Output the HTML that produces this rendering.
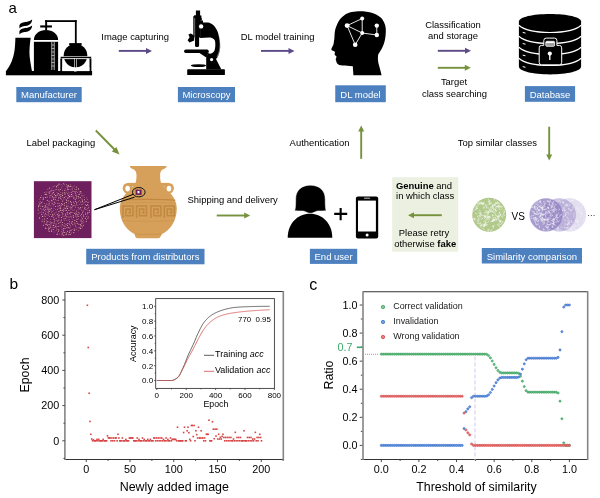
<!DOCTYPE html>
<html><head><meta charset="utf-8"><style>
html,body{margin:0;padding:0;background:#fff;}
body{width:600px;height:498px;overflow:hidden;}
svg{display:block;font-family:"Liberation Sans", Arial, sans-serif;}
</style></head><body>
<svg width="600" height="498" viewBox="0 0 600 498">
<text x="8.6" y="13.1" font-size="15" text-anchor="start" fill="#000" >a</text>
<g id="factory">
<rect x="5.9" y="71" width="86.2" height="4.3" fill="#000"/>
<path d="M15.4,37.8 L30.7,37.8 C29.8,44 29.2,50 29.6,56 C30.2,62 31.2,67 32,71.2 L5.9,71.2 C10.5,66 13.5,58 14.6,50 C15.2,45 15.3,41 15.4,37.8 Z" fill="#000"/>
<path d="M19.4,25.2 C21.5,22 24.5,22.4 27.2,21.8 C29.4,21.3 31.2,20.4 32.2,19.6 C32,22.6 30.6,24.6 27.8,25.6 C25,26.4 22,25.8 19.4,28.6 Z" fill="#000"/>
<path d="M19.4,31.2 C21.5,28 24.5,28.4 27.2,27.8 C29.4,27.3 31.2,26.4 32.2,25.6 C32,28.6 30.6,30.6 27.8,31.6 C25,32.4 22,31.8 19.4,34.6 Z" fill="#000"/>
<path d="M33.9,39.9 C33.9,34 39.5,30 46,30 C52.5,30 58.1,34 58.1,39.9 Z" fill="#000"/>
<rect x="33.9" y="41.8" width="24.2" height="29.4" fill="#000"/>
<rect x="40.2" y="25.4" width="11.7" height="2.1" fill="#000"/>
<rect x="45.2" y="20.2" width="1.9" height="10" fill="#000"/>
<rect x="45.2" y="20.2" width="31.4" height="1.8" fill="#000"/>
<rect x="74.9" y="20.2" width="1.8" height="23.5" fill="#000"/>
<line x1="51.8" y1="42" x2="51.8" y2="70" stroke="#fff" stroke-width="0.7"/>
<line x1="54.2" y1="42" x2="54.2" y2="70" stroke="#fff" stroke-width="0.7"/>
<path d="M51.8,45 H54.2 M51.8,48.5 H54.2 M51.8,52 H54.2 M51.8,55.5 H54.2 M51.8,59 H54.2 M51.8,62.5 H54.2 M51.8,66 H54.2" stroke="#fff" stroke-width="0.6"/>
<rect x="69.2" y="43.1" width="12.4" height="1.9" fill="#000"/>
<circle cx="75.5" cy="55.6" r="11.8" fill="#000"/>
<rect x="60.3" y="56.4" width="31.1" height="2.3" fill="#000" stroke="#fff" stroke-width="0.6"/>
<rect x="60.3" y="58.5" width="2.1" height="12.7" fill="#000"/>
<rect x="74.5" y="58.5" width="2.1" height="12.7" fill="#000" stroke="#fff" stroke-width="0.6"/>
<rect x="89.3" y="58.5" width="2.1" height="12.7" fill="#000"/>
<rect x="62.4" y="58.7" width="1.2" height="12.3" fill="#fff"/>
<rect x="88.1" y="58.7" width="1.2" height="12.3" fill="#fff"/>
<rect x="62.4" y="67.3" width="26.9" height="3.8" fill="#fff"/>
<path d="M63.6,58.7 H74.3 M76.8,58.7 H88" stroke="#fff" stroke-width="0.6"/>
</g>
<rect x="16.3" y="87" width="65.4" height="15.200000000000003" fill="#4D80BF"/>
<text x="49.0" y="98.39999999999999" fill="#fff" font-size="9.5" text-anchor="middle">Manufacturer</text>
<text x="101.3" y="40" font-size="9.45" text-anchor="start" fill="#000" >Image capturing</text>
<line x1="118.8" y1="50.9" x2="147" y2="50.9" stroke="#5D4B87" stroke-width="1.9"/>
<path d="M152,50.9 L146,47.9 L146,53.9 Z" fill="#5D4B87"/>
<g id="microscope">
<rect x="187.2" y="69.2" width="37.7" height="5.9" rx="0.7" fill="#000"/>
<path d="M206.2,69.4 L206.2,56.7 L208.7,52.9 L209.5,53.7 C212,53.5 213.7,52.5 214.5,50.5 C215.4,48 215.4,45 215.3,43 C215.2,41 214.5,39.5 213.6,39.1 C212,37.8 210.5,37.5 209.1,37.5 L200.1,38 L200.1,22.6 L208.5,22.6 C212.5,23.5 215.5,27 217.5,31.5 C219.5,36 220.4,42 220.2,47 C220,51 219,54.5 217.5,57.2 L216,59 L221.4,69.4 Z" fill="#000"/>
<path d="M218.6,34 C219.8,38 220.3,43 219.8,48 C219.4,51.5 218.3,54.5 217,57" stroke="#fff" stroke-width="0.45" fill="none" opacity="0.9"/>
<rect x="194.3" y="15.5" width="5.9" height="22" fill="#000"/>
<rect x="195" y="36" width="4.1" height="11.1" rx="1.6" fill="#000"/>
<rect x="195.9" y="10.5" width="4.2" height="5.5" fill="#000"/>
<rect x="194.1" y="15.5" width="7.3" height="2.6" fill="#000"/>
<rect x="195" y="18" width="6.8" height="2.6" fill="#000"/>
<rect x="195" y="20.5" width="8" height="2.6" fill="#000"/>
<rect x="193.3" y="16.2" width="0.9" height="20.8" fill="#000"/>
<line x1="194.75" y1="18" x2="194.75" y2="37" stroke="#999" stroke-width="0.5"/>
<circle cx="201.1" cy="26.4" r="2.2" fill="#fff"/>
<path d="M194.2,35.4 L190.8,33.6 L188.4,34.6 L189.6,37.3 L187.6,40.3 L189.5,42.6 L194.2,40.6 Z" fill="#000"/>
<rect x="184.1" y="49.6" width="24.6" height="3.3" rx="1.6" fill="#000"/>
<path d="M198.7,52.6 L208.8,52.6 L206.3,57.5 Z" fill="#000"/>
<circle cx="211.6" cy="59.6" r="1.6" fill="#fff"/>
<ellipse cx="198.5" cy="65.6" rx="7.7" ry="1.45" fill="#000"/>
</g>
<rect x="177.9" y="87" width="57.099999999999994" height="15.200000000000003" fill="#4D80BF"/>
<text x="206.45" y="98.39999999999999" fill="#fff" font-size="9.5" text-anchor="middle">Microscopy</text>
<text x="240.8" y="40" font-size="9.45" text-anchor="start" fill="#000" >DL model training</text>
<line x1="261" y1="50.9" x2="289.5" y2="50.9" stroke="#5D4B87" stroke-width="1.9"/>
<path d="M294.5,50.9 L288.5,47.9 L288.5,53.9 Z" fill="#5D4B87"/>
<g id="head">
<path d="M353.4,75.2 L352.8,66.3 C349,65.8 345,66 342.9,65.6 C340,65.2 338,64.6 337.2,63.4 C336,61.8 336.6,60.8 335.8,60 C335.3,59 336.8,57.6 336.5,56.6 C336,55.6 334.6,55.4 334.6,54.2 C334.6,53 335.4,52.4 334.6,51.5 C333.4,50.6 331,50.3 331.3,49.2 C331.6,47.6 333.4,45.5 333.7,43.2 C334,41 334.2,40 334.4,38.2 C334.6,33 334.8,30 335.8,27.7 C337.5,22.5 339.5,19.6 341.4,17.8 C345,13.6 350,11.7 356,11.4 C362,11.1 368,11.5 372.5,13 C378,15 381,17.5 382.3,19.3 C385,23 386.2,27.5 385.8,32 C385.6,37 385,41 383.6,44.5 C382,49 380,51.5 378.2,54.5 C377.6,58 378,61.5 378.7,64.2 C379.7,68 380.8,71.5 381.6,75.2 Z" fill="#000"/>
<g stroke="#fff" stroke-width="0.9" fill="none">
<path d="M347.1,25.6 L362.2,18.5 L362.2,33 Z M347.1,25.6 L355.2,44.8 L362.2,33 L376.8,35 L376.8,25.6"/>
</g>
<g fill="#fff">
<circle cx="347.1" cy="25.6" r="2.4"/><circle cx="362.2" cy="18.5" r="2"/><circle cx="362.2" cy="33" r="2"/>
<circle cx="355.2" cy="44.8" r="2.3"/><circle cx="376.8" cy="25.6" r="2.2"/><circle cx="376.8" cy="35" r="2.2"/>
</g>
</g>
<rect x="335.25" y="85.3" width="50.55000000000001" height="16.900000000000006" fill="#4D80BF"/>
<text x="360.525" y="97.55" fill="#fff" font-size="9.5" text-anchor="middle">DL model</text>
<text x="453" y="28" font-size="9.45" text-anchor="middle" fill="#000" >Classification</text>
<text x="453" y="39.3" font-size="9.45" text-anchor="middle" fill="#000" >and storage</text>
<line x1="437.8" y1="50.8" x2="466" y2="50.8" stroke="#5D4B87" stroke-width="1.9"/>
<path d="M471,50.8 L465,47.8 L465,53.8 Z" fill="#5D4B87"/>
<line x1="437.8" y1="67.8" x2="465.8" y2="67.8" stroke="#76923C" stroke-width="1.9"/>
<path d="M470.8,67.8 L464.8,64.8 L464.8,70.8 Z" fill="#76923C"/>
<text x="454" y="85.4" font-size="9.45" text-anchor="middle" fill="#000" >Target</text>
<text x="454.5" y="96.8" font-size="9.45" text-anchor="middle" fill="#000" >class searching</text>
<g id="db">
<path d="M518.9,21.5 C518.9,17 532.8,13.9 550,13.9 C567.2,13.9 581.1,17 581.1,21.5 L581.1,66.5 C581.1,71 567.2,74.4 550,74.4 C532.8,74.4 518.9,71 518.9,66.5 Z" fill="#000"/>
<g stroke="#fff" stroke-width="1.2" fill="none">
<path d="M518.9,25.3 C524,30 536,32.5 550,32.5 C564,32.5 576,30 581.1,25.3"/>
<path d="M518.9,36.2 C524,40.9 536,43.4 550,43.4 C564,43.4 576,40.9 581.1,36.2"/>
<path d="M518.9,47.3 C524,52 536,54.5 550,54.5 C564,54.5 576,52 581.1,47.3"/>
<path d="M518.9,58.3 C524,63 536,65.5 550,65.5 C564,65.5 576,63 581.1,58.3"/>
</g>
<g stroke="#fff" stroke-width="1">
<line x1="522.7" y1="32.4" x2="525.5" y2="33.1"/><line x1="522.7" y1="43.5" x2="525.5" y2="44.2"/>
<line x1="522.7" y1="55.1" x2="525.5" y2="55.8"/><line x1="522.7" y1="66.6" x2="525.5" y2="67.3"/>
</g>
<path d="M543.8,45.4 L543.8,40.5 Q543.8,38.1 546.2,38.1 L554.5,38.1 Q556.9,38.1 556.9,40.5 L556.9,45.4 L559.3,45.4 Q561.7,45.4 561.7,47.8 L561.7,62.4 Q561.7,64.8 559.3,64.8 L541.6,64.8 Q539.2,64.8 539.2,62.4 L539.2,47.8 Q539.2,45.4 541.6,45.4 Z" fill="#000" stroke="#fff" stroke-width="1"/>
<rect x="545.8" y="41.3" width="8.8" height="5" rx="1" fill="#9a9a9a" stroke="#fff" stroke-width="0.8"/>
<rect x="546.2" y="41.7" width="8" height="1.4" fill="#fff"/>
<circle cx="549.8" cy="53.6" r="2.1" fill="#fff"/>
<rect x="549.15" y="53.6" width="1.3" height="6.4" fill="#fff"/>
</g>
<rect x="524.9" y="86.1" width="50.200000000000045" height="15.700000000000003" fill="#4D80BF"/>
<text x="550.0" y="97.74999999999999" fill="#fff" font-size="9.5" text-anchor="middle">Database</text>
<text x="26.5" y="145.6" font-size="9.45" text-anchor="start" fill="#000" >Label packaging</text>
<line x1="95.8" y1="130.5" x2="116" y2="151" stroke="#76923C" stroke-width="1.9"/>
<path d="M119.5,154.5 L111.8,151.5 L116.4,147 Z" fill="#76923C"/>
<rect x="33.9" y="181.2" width="57.6" height="56.9" fill="#6E1F5E"/>
<g fill="#F4D0B0" opacity="0.95"><circle cx="72.2" cy="221.6" r="0.55"/><circle cx="82.4" cy="218.8" r="0.55"/><circle cx="51.0" cy="223.8" r="0.5"/><circle cx="57.3" cy="209.3" r="0.5"/><circle cx="59.0" cy="211.6" r="0.55"/><circle cx="69.4" cy="213.3" r="0.5"/><circle cx="71.5" cy="194.6" r="0.55"/><circle cx="65.1" cy="218.6" r="0.55"/><circle cx="83.1" cy="203.0" r="0.4"/><circle cx="47.9" cy="221.5" r="0.5"/><circle cx="88.2" cy="217.0" r="0.5"/><circle cx="57.7" cy="232.9" r="0.4"/><circle cx="70.9" cy="216.3" r="0.5"/><circle cx="69.4" cy="196.4" r="0.55"/><circle cx="54.0" cy="204.2" r="0.55"/><circle cx="49.1" cy="224.5" r="0.55"/><circle cx="81.4" cy="217.0" r="0.4"/><circle cx="65.3" cy="215.7" r="0.55"/><circle cx="44.3" cy="219.0" r="0.5"/><circle cx="51.1" cy="202.1" r="0.4"/><circle cx="58.2" cy="226.3" r="0.55"/><circle cx="56.3" cy="187.6" r="0.4"/><circle cx="52.1" cy="203.8" r="0.5"/><circle cx="76.9" cy="196.3" r="0.55"/><circle cx="58.4" cy="231.2" r="0.5"/><circle cx="82.6" cy="227.0" r="0.4"/><circle cx="64.4" cy="192.8" r="0.5"/><circle cx="53.5" cy="210.3" r="0.4"/><circle cx="61.1" cy="205.1" r="0.5"/><circle cx="43.2" cy="199.5" r="0.5"/><circle cx="54.1" cy="232.0" r="0.4"/><circle cx="45.6" cy="197.5" r="0.55"/><circle cx="44.5" cy="215.0" r="0.4"/><circle cx="86.0" cy="201.5" r="0.55"/><circle cx="54.4" cy="194.2" r="0.55"/><circle cx="61.7" cy="203.5" r="0.5"/><circle cx="84.5" cy="208.7" r="0.5"/><circle cx="55.7" cy="195.5" r="0.55"/><circle cx="64.3" cy="203.3" r="0.5"/><circle cx="63.7" cy="218.9" r="0.4"/><circle cx="74.8" cy="197.8" r="0.4"/><circle cx="56.6" cy="211.9" r="0.4"/><circle cx="79.1" cy="191.8" r="0.4"/><circle cx="51.8" cy="216.6" r="0.5"/><circle cx="75.2" cy="199.2" r="0.55"/><circle cx="78.4" cy="230.3" r="0.4"/><circle cx="64.8" cy="220.4" r="0.4"/><circle cx="51.1" cy="210.8" r="0.4"/><circle cx="62.0" cy="229.5" r="0.4"/><circle cx="62.1" cy="210.4" r="0.55"/><circle cx="49.2" cy="203.2" r="0.5"/><circle cx="54.3" cy="186.0" r="0.4"/><circle cx="49.8" cy="197.0" r="0.4"/><circle cx="83.8" cy="216.7" r="0.55"/><circle cx="68.2" cy="185.4" r="0.55"/><circle cx="70.8" cy="186.4" r="0.55"/><circle cx="50.5" cy="219.3" r="0.4"/><circle cx="58.0" cy="203.3" r="0.5"/><circle cx="69.8" cy="219.7" r="0.4"/><circle cx="77.9" cy="214.5" r="0.55"/><circle cx="63.8" cy="209.9" r="0.55"/><circle cx="58.2" cy="215.9" r="0.55"/><circle cx="66.5" cy="206.7" r="0.55"/><circle cx="75.7" cy="226.0" r="0.5"/><circle cx="56.1" cy="220.3" r="0.4"/><circle cx="74.8" cy="220.5" r="0.55"/><circle cx="87.5" cy="208.6" r="0.4"/><circle cx="45.9" cy="211.4" r="0.4"/><circle cx="62.2" cy="224.8" r="0.55"/><circle cx="76.1" cy="229.7" r="0.4"/><circle cx="67.4" cy="208.4" r="0.55"/><circle cx="75.0" cy="224.6" r="0.4"/><circle cx="82.5" cy="212.8" r="0.5"/><circle cx="82.3" cy="207.1" r="0.4"/><circle cx="54.7" cy="219.5" r="0.4"/><circle cx="65.1" cy="199.1" r="0.4"/><circle cx="67.0" cy="190.9" r="0.4"/><circle cx="66.1" cy="224.3" r="0.5"/><circle cx="62.1" cy="186.1" r="0.4"/><circle cx="51.3" cy="208.2" r="0.55"/><circle cx="78.8" cy="212.4" r="0.5"/><circle cx="62.8" cy="213.9" r="0.55"/><circle cx="58.9" cy="197.2" r="0.5"/><circle cx="39.6" cy="217.9" r="0.55"/><circle cx="88.7" cy="207.7" r="0.5"/><circle cx="46.8" cy="228.7" r="0.4"/><circle cx="66.9" cy="220.7" r="0.4"/><circle cx="80.2" cy="197.6" r="0.55"/><circle cx="40.0" cy="212.7" r="0.4"/><circle cx="70.0" cy="189.6" r="0.4"/><circle cx="59.6" cy="203.2" r="0.4"/><circle cx="68.3" cy="195.4" r="0.5"/><circle cx="43.3" cy="225.2" r="0.5"/><circle cx="79.2" cy="204.2" r="0.4"/><circle cx="74.3" cy="229.0" r="0.55"/><circle cx="69.0" cy="217.1" r="0.5"/><circle cx="68.2" cy="200.8" r="0.55"/><circle cx="49.4" cy="188.1" r="0.55"/><circle cx="48.9" cy="205.0" r="0.55"/><circle cx="73.0" cy="210.4" r="0.4"/><circle cx="80.9" cy="202.0" r="0.5"/><circle cx="69.3" cy="232.5" r="0.5"/><circle cx="60.1" cy="222.2" r="0.5"/><circle cx="71.5" cy="204.6" r="0.55"/><circle cx="48.7" cy="213.6" r="0.4"/><circle cx="78.3" cy="201.3" r="0.4"/><circle cx="45.6" cy="205.9" r="0.55"/><circle cx="70.6" cy="225.3" r="0.4"/><circle cx="64.1" cy="208.0" r="0.5"/><circle cx="42.8" cy="201.9" r="0.4"/><circle cx="48.9" cy="207.9" r="0.5"/><circle cx="55.7" cy="206.5" r="0.5"/><circle cx="40.8" cy="208.5" r="0.4"/><circle cx="64.8" cy="190.2" r="0.55"/><circle cx="43.3" cy="208.9" r="0.5"/><circle cx="57.0" cy="192.2" r="0.4"/><circle cx="79.1" cy="194.4" r="0.55"/><circle cx="62.1" cy="234.8" r="0.55"/><circle cx="79.1" cy="227.7" r="0.55"/><circle cx="55.1" cy="212.8" r="0.4"/><circle cx="64.0" cy="216.6" r="0.4"/><circle cx="82.0" cy="195.7" r="0.5"/><circle cx="61.4" cy="199.6" r="0.4"/><circle cx="87.5" cy="204.7" r="0.55"/><circle cx="75.2" cy="206.0" r="0.4"/><circle cx="76.4" cy="187.1" r="0.5"/><circle cx="54.1" cy="214.0" r="0.5"/><circle cx="53.7" cy="225.4" r="0.55"/><circle cx="58.8" cy="220.1" r="0.5"/><circle cx="85.5" cy="212.3" r="0.4"/><circle cx="45.6" cy="216.7" r="0.4"/><circle cx="61.9" cy="212.6" r="0.5"/><circle cx="70.2" cy="209.0" r="0.4"/><circle cx="86.3" cy="205.5" r="0.55"/><circle cx="72.9" cy="219.4" r="0.4"/><circle cx="62.3" cy="233.1" r="0.55"/><circle cx="70.9" cy="212.4" r="0.55"/><circle cx="70.1" cy="207.0" r="0.55"/><circle cx="68.3" cy="203.7" r="0.4"/><circle cx="65.0" cy="228.4" r="0.5"/><circle cx="58.7" cy="223.3" r="0.5"/><circle cx="76.6" cy="210.9" r="0.5"/><circle cx="52.4" cy="211.4" r="0.4"/><circle cx="83.3" cy="225.2" r="0.5"/><circle cx="42.2" cy="219.3" r="0.4"/><circle cx="72.9" cy="193.8" r="0.4"/><circle cx="47.3" cy="208.9" r="0.5"/><circle cx="85.0" cy="207.2" r="0.5"/><circle cx="71.1" cy="196.4" r="0.5"/><circle cx="49.2" cy="193.1" r="0.55"/><circle cx="54.1" cy="223.1" r="0.55"/><circle cx="67.8" cy="214.0" r="0.55"/><circle cx="52.0" cy="188.3" r="0.4"/><circle cx="64.3" cy="223.4" r="0.4"/><circle cx="39.1" cy="202.1" r="0.4"/><circle cx="54.6" cy="220.9" r="0.5"/><circle cx="45.7" cy="209.3" r="0.5"/><circle cx="63.4" cy="211.4" r="0.4"/><circle cx="57.3" cy="214.2" r="0.55"/><circle cx="68.9" cy="210.3" r="0.5"/><circle cx="44.0" cy="206.0" r="0.4"/><circle cx="51.2" cy="190.8" r="0.55"/><circle cx="56.1" cy="224.0" r="0.55"/><circle cx="66.4" cy="204.9" r="0.4"/><circle cx="46.5" cy="192.0" r="0.4"/><circle cx="72.1" cy="189.0" r="0.5"/><circle cx="54.0" cy="208.2" r="0.4"/><circle cx="74.4" cy="188.9" r="0.4"/><circle cx="56.1" cy="189.5" r="0.55"/><circle cx="50.1" cy="195.6" r="0.5"/><circle cx="54.9" cy="190.9" r="0.4"/><circle cx="81.8" cy="210.0" r="0.4"/><circle cx="63.3" cy="231.9" r="0.5"/><circle cx="69.8" cy="230.9" r="0.5"/><circle cx="50.1" cy="221.9" r="0.5"/><circle cx="46.7" cy="194.3" r="0.5"/><circle cx="56.1" cy="230.7" r="0.4"/><circle cx="83.1" cy="211.1" r="0.5"/><circle cx="45.4" cy="213.7" r="0.55"/><circle cx="76.7" cy="221.6" r="0.5"/><circle cx="71.3" cy="232.9" r="0.4"/><circle cx="87.3" cy="199.6" r="0.4"/><circle cx="60.3" cy="210.5" r="0.5"/><circle cx="61.6" cy="226.9" r="0.4"/><circle cx="80.7" cy="228.4" r="0.55"/><circle cx="56.5" cy="186.2" r="0.55"/><circle cx="73.6" cy="202.1" r="0.5"/><circle cx="58.2" cy="217.7" r="0.4"/><circle cx="81.0" cy="225.9" r="0.55"/><circle cx="57.8" cy="185.2" r="0.55"/><circle cx="41.6" cy="195.8" r="0.4"/><circle cx="49.6" cy="216.4" r="0.4"/><circle cx="76.6" cy="213.7" r="0.55"/><circle cx="76.4" cy="204.1" r="0.5"/><circle cx="62.3" cy="222.5" r="0.5"/><circle cx="70.5" cy="226.9" r="0.4"/><circle cx="72.9" cy="187.0" r="0.4"/><circle cx="81.3" cy="198.9" r="0.4"/><circle cx="42.4" cy="216.4" r="0.55"/><circle cx="62.6" cy="195.4" r="0.55"/><circle cx="57.0" cy="229.6" r="0.4"/><circle cx="67.0" cy="227.6" r="0.5"/><circle cx="74.8" cy="223.0" r="0.55"/><circle cx="73.2" cy="215.8" r="0.55"/><circle cx="76.4" cy="217.8" r="0.4"/><circle cx="78.5" cy="196.8" r="0.5"/><circle cx="44.4" cy="221.3" r="0.55"/><circle cx="47.1" cy="207.1" r="0.5"/><circle cx="62.5" cy="216.0" r="0.4"/><circle cx="48.1" cy="215.1" r="0.5"/><circle cx="78.4" cy="188.9" r="0.55"/><circle cx="87.7" cy="212.9" r="0.55"/><circle cx="63.8" cy="235.2" r="0.55"/><circle cx="65.5" cy="188.8" r="0.4"/><circle cx="46.9" cy="204.0" r="0.5"/><circle cx="74.6" cy="203.6" r="0.4"/><circle cx="47.3" cy="200.2" r="0.55"/><circle cx="47.9" cy="189.5" r="0.4"/><circle cx="82.5" cy="200.0" r="0.5"/><circle cx="75.7" cy="212.2" r="0.4"/><circle cx="68.7" cy="227.3" r="0.55"/><circle cx="66.4" cy="233.0" r="0.5"/><circle cx="64.4" cy="197.4" r="0.5"/><circle cx="77.1" cy="205.4" r="0.4"/><circle cx="52.9" cy="215.7" r="0.5"/><circle cx="55.8" cy="215.8" r="0.4"/><circle cx="75.4" cy="207.7" r="0.4"/><circle cx="72.9" cy="212.7" r="0.4"/><circle cx="58.6" cy="213.6" r="0.4"/><circle cx="81.9" cy="193.1" r="0.4"/><circle cx="85.9" cy="209.3" r="0.5"/><circle cx="51.6" cy="231.6" r="0.5"/><circle cx="73.9" cy="205.2" r="0.55"/><circle cx="85.6" cy="214.1" r="0.55"/><circle cx="74.3" cy="209.8" r="0.4"/><circle cx="70.4" cy="234.2" r="0.5"/><circle cx="56.1" cy="218.2" r="0.5"/><circle cx="69.9" cy="194.2" r="0.4"/><circle cx="44.7" cy="192.5" r="0.4"/><circle cx="60.8" cy="196.6" r="0.55"/><circle cx="88.0" cy="202.3" r="0.55"/><circle cx="63.5" cy="225.8" r="0.4"/><circle cx="73.8" cy="232.5" r="0.55"/><circle cx="67.0" cy="186.3" r="0.5"/><circle cx="54.1" cy="227.5" r="0.5"/><circle cx="83.8" cy="220.6" r="0.4"/><circle cx="75.5" cy="214.7" r="0.5"/><circle cx="59.1" cy="208.0" r="0.5"/><circle cx="78.3" cy="207.8" r="0.55"/><circle cx="75.2" cy="216.3" r="0.4"/><circle cx="55.5" cy="209.7" r="0.4"/><circle cx="76.5" cy="191.2" r="0.4"/><circle cx="78.9" cy="224.2" r="0.55"/><circle cx="71.2" cy="202.8" r="0.55"/><circle cx="79.9" cy="208.8" r="0.55"/><circle cx="84.1" cy="197.4" r="0.4"/><circle cx="66.9" cy="217.9" r="0.4"/><circle cx="65.9" cy="196.5" r="0.4"/><circle cx="53.0" cy="201.9" r="0.4"/><circle cx="72.1" cy="229.3" r="0.4"/><circle cx="67.8" cy="223.5" r="0.5"/><circle cx="41.5" cy="202.7" r="0.55"/><circle cx="81.1" cy="220.9" r="0.55"/><circle cx="60.1" cy="225.9" r="0.4"/><circle cx="72.8" cy="224.7" r="0.55"/><circle cx="60.6" cy="208.6" r="0.55"/><circle cx="61.5" cy="219.3" r="0.4"/><circle cx="71.7" cy="217.9" r="0.4"/><circle cx="88.6" cy="205.7" r="0.4"/><circle cx="80.7" cy="215.5" r="0.4"/><circle cx="73.0" cy="196.0" r="0.5"/><circle cx="44.5" cy="203.4" r="0.4"/><circle cx="49.0" cy="201.2" r="0.5"/><circle cx="60.7" cy="206.9" r="0.5"/><circle cx="81.6" cy="214.3" r="0.55"/><circle cx="67.4" cy="187.7" r="0.55"/><circle cx="81.2" cy="204.7" r="0.4"/><circle cx="84.5" cy="199.8" r="0.5"/><circle cx="59.7" cy="215.0" r="0.55"/><circle cx="59.7" cy="233.9" r="0.4"/><circle cx="79.7" cy="200.7" r="0.4"/><circle cx="55.8" cy="226.4" r="0.55"/><circle cx="65.7" cy="214.1" r="0.55"/><circle cx="50.4" cy="225.6" r="0.4"/><circle cx="40.8" cy="201.3" r="0.4"/><circle cx="72.0" cy="209.2" r="0.4"/><circle cx="40.7" cy="197.5" r="0.55"/><circle cx="65.0" cy="194.1" r="0.55"/><circle cx="53.3" cy="192.6" r="0.55"/><circle cx="78.1" cy="209.8" r="0.4"/><circle cx="78.3" cy="198.2" r="0.4"/><circle cx="69.3" cy="228.7" r="0.4"/><circle cx="43.3" cy="212.8" r="0.55"/><circle cx="72.4" cy="205.9" r="0.5"/><circle cx="52.1" cy="225.3" r="0.4"/><circle cx="44.0" cy="216.8" r="0.4"/><circle cx="61.0" cy="184.6" r="0.4"/><circle cx="64.9" cy="226.1" r="0.55"/><circle cx="54.6" cy="202.3" r="0.55"/><circle cx="51.9" cy="195.2" r="0.4"/><circle cx="74.3" cy="230.5" r="0.5"/><circle cx="68.0" cy="205.9" r="0.5"/><circle cx="58.6" cy="187.1" r="0.4"/><circle cx="41.7" cy="214.5" r="0.5"/><circle cx="73.4" cy="217.2" r="0.55"/><circle cx="61.4" cy="231.4" r="0.4"/><circle cx="40.8" cy="206.2" r="0.4"/><circle cx="55.2" cy="199.2" r="0.5"/><circle cx="68.9" cy="234.6" r="0.5"/><circle cx="53.2" cy="229.5" r="0.5"/><circle cx="77.2" cy="192.7" r="0.4"/><circle cx="60.9" cy="192.6" r="0.4"/><circle cx="56.6" cy="228.0" r="0.4"/><circle cx="61.8" cy="188.0" r="0.4"/><circle cx="58.0" cy="206.0" r="0.55"/><circle cx="73.0" cy="191.2" r="0.55"/><circle cx="58.8" cy="229.7" r="0.55"/><circle cx="38.1" cy="209.0" r="0.4"/><circle cx="66.1" cy="192.6" r="0.4"/><circle cx="59.3" cy="194.9" r="0.5"/><circle cx="83.9" cy="222.7" r="0.4"/><circle cx="68.9" cy="192.2" r="0.4"/><circle cx="41.9" cy="209.8" r="0.4"/><circle cx="51.4" cy="212.7" r="0.4"/><circle cx="49.9" cy="191.7" r="0.55"/><circle cx="57.6" cy="221.1" r="0.5"/><circle cx="71.7" cy="207.7" r="0.55"/><circle cx="70.8" cy="184.8" r="0.4"/><circle cx="56.1" cy="200.8" r="0.4"/><circle cx="67.8" cy="193.7" r="0.5"/><circle cx="55.8" cy="203.7" r="0.4"/><circle cx="62.7" cy="193.1" r="0.5"/><circle cx="53.5" cy="199.1" r="0.55"/><circle cx="63.6" cy="230.2" r="0.5"/><circle cx="46.3" cy="220.7" r="0.4"/><circle cx="46.0" cy="224.4" r="0.55"/><circle cx="38.6" cy="206.6" r="0.55"/><circle cx="59.7" cy="190.9" r="0.4"/><circle cx="58.8" cy="198.7" r="0.4"/><circle cx="58.2" cy="193.6" r="0.55"/><circle cx="62.9" cy="197.3" r="0.4"/><circle cx="67.5" cy="198.1" r="0.5"/><circle cx="67.4" cy="225.4" r="0.5"/><circle cx="48.1" cy="192.1" r="0.4"/><circle cx="77.2" cy="223.2" r="0.55"/><circle cx="49.1" cy="228.4" r="0.55"/><circle cx="49.4" cy="211.4" r="0.5"/><circle cx="52.5" cy="196.7" r="0.55"/><circle cx="62.6" cy="190.7" r="0.4"/><circle cx="76.3" cy="198.0" r="0.5"/><circle cx="76.0" cy="195.1" r="0.55"/><circle cx="75.0" cy="191.7" r="0.55"/><circle cx="86.3" cy="221.2" r="0.5"/><circle cx="87.7" cy="214.8" r="0.4"/><circle cx="73.4" cy="198.0" r="0.5"/><circle cx="48.1" cy="212.1" r="0.55"/><circle cx="52.6" cy="214.3" r="0.5"/><circle cx="44.1" cy="223.1" r="0.4"/><circle cx="68.0" cy="189.4" r="0.55"/><circle cx="62.7" cy="204.5" r="0.5"/><circle cx="81.9" cy="223.1" r="0.55"/><circle cx="69.0" cy="186.6" r="0.55"/><circle cx="38.2" cy="213.6" r="0.4"/><circle cx="77.0" cy="219.6" r="0.5"/><circle cx="58.4" cy="189.7" r="0.5"/><circle cx="70.4" cy="201.5" r="0.55"/><circle cx="66.5" cy="200.1" r="0.55"/><circle cx="54.0" cy="197.2" r="0.5"/><circle cx="51.8" cy="200.4" r="0.55"/><circle cx="57.2" cy="195.0" r="0.55"/><circle cx="66.1" cy="234.6" r="0.55"/><circle cx="66.3" cy="202.4" r="0.55"/><circle cx="45.4" cy="228.1" r="0.55"/><circle cx="66.3" cy="184.5" r="0.4"/><circle cx="86.4" cy="219.3" r="0.4"/><circle cx="46.9" cy="222.8" r="0.5"/><circle cx="84.0" cy="195.7" r="0.4"/><circle cx="86.4" cy="216.5" r="0.4"/><circle cx="59.8" cy="217.1" r="0.4"/><circle cx="71.0" cy="230.3" r="0.55"/><circle cx="51.5" cy="230.1" r="0.5"/><circle cx="75.6" cy="201.2" r="0.55"/><circle cx="86.7" cy="197.8" r="0.4"/><circle cx="61.6" cy="217.5" r="0.5"/><circle cx="89.2" cy="212.2" r="0.55"/><circle cx="43.3" cy="197.9" r="0.55"/><circle cx="71.7" cy="223.1" r="0.55"/><circle cx="38.2" cy="210.4" r="0.4"/><circle cx="68.9" cy="197.7" r="0.5"/><circle cx="67.3" cy="212.2" r="0.55"/><circle cx="80.6" cy="207.6" r="0.5"/><circle cx="45.2" cy="194.4" r="0.55"/><circle cx="52.1" cy="193.7" r="0.55"/><circle cx="60.7" cy="198.3" r="0.5"/><circle cx="44.2" cy="210.6" r="0.5"/><circle cx="75.6" cy="193.1" r="0.5"/><circle cx="87.9" cy="210.3" r="0.4"/><circle cx="46.7" cy="214.2" r="0.4"/><circle cx="76.2" cy="189.3" r="0.55"/><circle cx="66.2" cy="210.4" r="0.55"/><circle cx="45.0" cy="207.6" r="0.5"/><circle cx="42.5" cy="206.2" r="0.55"/><circle cx="49.2" cy="231.2" r="0.55"/><circle cx="71.2" cy="192.3" r="0.5"/><circle cx="42.1" cy="221.3" r="0.5"/><circle cx="68.2" cy="219.9" r="0.4"/><circle cx="47.1" cy="197.1" r="0.5"/><circle cx="83.6" cy="215.1" r="0.5"/><circle cx="50.2" cy="227.1" r="0.55"/><circle cx="82.8" cy="204.6" r="0.4"/><circle cx="51.0" cy="197.8" r="0.4"/><circle cx="53.7" cy="217.8" r="0.5"/><circle cx="67.5" cy="231.3" r="0.5"/><circle cx="69.6" cy="223.9" r="0.5"/><circle cx="57.1" cy="234.4" r="0.55"/><circle cx="78.7" cy="216.2" r="0.5"/><circle cx="61.2" cy="220.7" r="0.5"/><circle cx="52.1" cy="227.4" r="0.4"/><circle cx="60.9" cy="194.4" r="0.5"/><circle cx="55.9" cy="197.0" r="0.55"/><circle cx="53.1" cy="219.3" r="0.4"/><circle cx="50.9" cy="205.8" r="0.4"/><circle cx="53.1" cy="190.4" r="0.5"/><circle cx="48.6" cy="229.8" r="0.5"/><circle cx="58.2" cy="200.3" r="0.5"/><circle cx="63.7" cy="183.7" r="0.55"/><circle cx="39.9" cy="199.6" r="0.4"/><circle cx="82.5" cy="201.4" r="0.5"/><circle cx="64.3" cy="205.3" r="0.5"/><circle cx="81.0" cy="219.2" r="0.4"/><circle cx="47.2" cy="218.5" r="0.5"/><circle cx="50.4" cy="214.5" r="0.4"/><circle cx="85.4" cy="218.2" r="0.55"/><circle cx="63.4" cy="228.5" r="0.5"/><circle cx="80.6" cy="224.5" r="0.5"/><circle cx="59.0" cy="184.1" r="0.55"/><circle cx="80.7" cy="191.5" r="0.55"/><circle cx="63.3" cy="198.9" r="0.4"/><circle cx="84.7" cy="202.4" r="0.4"/><circle cx="53.1" cy="205.9" r="0.4"/><circle cx="40.0" cy="203.8" r="0.55"/><circle cx="50.0" cy="209.6" r="0.55"/><circle cx="53.1" cy="186.7" r="0.4"/><circle cx="66.8" cy="216.2" r="0.5"/><circle cx="85.3" cy="204.5" r="0.4"/><circle cx="80.2" cy="193.1" r="0.5"/><circle cx="59.7" cy="205.6" r="0.5"/><circle cx="48.6" cy="210.1" r="0.5"/><circle cx="87.9" cy="218.5" r="0.4"/><circle cx="60.3" cy="189.5" r="0.5"/><circle cx="48.7" cy="227.0" r="0.4"/><circle cx="82.7" cy="221.7" r="0.4"/><circle cx="64.7" cy="232.5" r="0.5"/><circle cx="62.7" cy="201.1" r="0.55"/><circle cx="65.7" cy="208.3" r="0.5"/><circle cx="76.8" cy="202.2" r="0.5"/><circle cx="69.6" cy="221.8" r="0.5"/><circle cx="89.6" cy="210.5" r="0.5"/><circle cx="47.4" cy="225.1" r="0.55"/><circle cx="39.0" cy="205.1" r="0.55"/><circle cx="78.5" cy="218.8" r="0.4"/><circle cx="76.9" cy="227.9" r="0.4"/><circle cx="52.0" cy="222.4" r="0.5"/><circle cx="77.1" cy="216.0" r="0.55"/><circle cx="64.7" cy="184.9" r="0.4"/><circle cx="79.5" cy="213.8" r="0.4"/><circle cx="70.6" cy="214.0" r="0.4"/><circle cx="41.8" cy="212.0" r="0.4"/><circle cx="74.2" cy="185.9" r="0.4"/><circle cx="74.7" cy="213.4" r="0.5"/></g>
<g id="vase">
<ellipse cx="127.6" cy="188.2" rx="4.9" ry="5.3" fill="#D6A05A"/>
<ellipse cx="169" cy="188.2" rx="4.9" ry="5.3" fill="#D6A05A"/>
<rect x="127.6" y="182.9" width="8.5" height="3.5" fill="#D6A05A"/>
<rect x="160.5" y="182.9" width="8.5" height="3.5" fill="#D6A05A"/>
<path d="M129.8,166 L166.7,166 C166.7,167.6 165,168.4 163,169.3 C161,170.5 160.1,172.5 160.1,175 C160.1,178 160.3,181 161.1,183 C162.6,186 167.6,190 170.6,193.5 C174.1,197.5 176.8,203 176.8,208.5 C176.8,215 175,221 171.5,226 C168.5,230 165,232.5 162,234 L160.6,236.6 Q160.3,238.3 158.3,238.3 L137.5,238.3 Q135.5,238.3 135.3,236.6 L134.5,234 C131.5,232.5 128,230 125,226 C121.5,221 119.8,215 119.8,208.5 C119.8,203 122.5,197.5 126,193.5 C129,190 134,186 135.5,183 C136.3,181 136.5,178 136.5,175 C136.5,172.5 135.5,170.5 133.5,169.3 C131.5,168.4 129.8,167.6 129.8,166 Z" fill="#D6A05A"/>
<ellipse cx="127.6" cy="188.6" rx="2.3" ry="2.9" fill="#fff"/>
<ellipse cx="169" cy="188.6" rx="2.3" ry="2.9" fill="#fff"/>
<path d="M121.3,200.3 C132,199 164,199 175.3,200.3" stroke="#C08840" stroke-width="1.2" fill="none"/>
<path d="M120.2,203.2 C132,202.3 164,202.3 176.3,203.2" stroke="#C08840" stroke-width="0.5" fill="none" opacity="0.7"/>
<path d="M122,220.5 C132,221.5 164,221.5 174.6,220.5" stroke="#C08840" stroke-width="0.5" fill="none" opacity="0.7"/>
<path d="M134.8,234 C142,234.6 153,234.6 161.4,234" stroke="#C08840" stroke-width="0.6" fill="none" opacity="0.8"/>
<path d="M123.0,217.9 V205.9 H133.0 V215.7 H126.0 V208.9 H130.2 V212.9 H128.4 M136.5,217.9 V205.9 H146.5 V215.7 H139.5 V208.9 H143.7 V212.9 H141.9 M150.9,217.9 V205.9 H160.9 V215.7 H153.9 V208.9 H158.1 V212.9 H156.3 M164.3,217.9 V205.9 H174.3 V215.7 H167.3 V208.9 H171.5 V212.9 H169.7" stroke="#C08840" stroke-width="1.5" fill="none"/>
<ellipse cx="138.8" cy="192.2" rx="6.3" ry="4.7" fill="none" stroke="#111" stroke-width="1"/>
<rect x="135.6" y="189.6" width="6" height="5.3" fill="#6B1E5C"/>
<rect x="137.5" y="190.9" width="2" height="2.4" fill="#fff"/>
</g>
<path d="M94.5,209.7 L133.2,194.3 M94.5,209.7 L134.6,197.2" stroke="#000" stroke-width="1" fill="none"/>
<rect x="86.2" y="248.8" width="118.3" height="15.5" fill="#4D80BF"/>
<text x="145.35" y="260.35" fill="#fff" font-size="9.5" text-anchor="middle">Products from distributors</text>
<text x="187.5" y="202.8" font-size="9.45" text-anchor="start" fill="#000" >Shipping and delivery</text>
<line x1="216.7" y1="215.5" x2="245.2" y2="215.5" stroke="#76923C" stroke-width="1.9"/>
<path d="M250.2,215.5 L244.2,212.5 L244.2,218.5 Z" fill="#76923C"/>
<text x="289.6" y="146.3" font-size="9.45" text-anchor="start" fill="#000" >Authentication</text>
<line x1="361.2" y1="158.8" x2="361.2" y2="130.4" stroke="#76923C" stroke-width="1.9"/>
<path d="M361.2,125.4 L358.2,131.4 L364.2,131.4 Z" fill="#76923C"/>
<g id="person">
<path d="M287.7,237.8 C287.7,223.5 297.5,213.7 310,213.7 C322.5,213.7 332.3,223.5 332.3,237.8 Z" fill="#000"/>
<path d="M294.7,210.8 C295.6,208 295.7,204 295.7,199 C295.7,190 302,185.2 310.4,185.2 C318.8,185.2 325.2,190 325.2,199 C325.2,204 325.3,208 326.1,210.8 C322,211.2 318.5,210.6 316.5,211.2 C314.5,212 312.5,213.3 310.4,213.3 C308.3,213.3 306.3,212 304.3,211.2 C302.3,210.6 298.8,211.2 294.7,210.8 Z" fill="#000" stroke="#fff" stroke-width="0.5"/>
</g>
<path d="M340.65,208 V220.3 M334.2,213.9 H347.2" stroke="#000" stroke-width="2.1"/>
<g id="phone">
<rect x="355.9" y="196.5" width="22.3" height="42" rx="2" fill="#000"/>
<rect x="358" y="200.6" width="17.9" height="30.9" fill="#fff"/>
<rect x="363.9" y="197.7" width="6.3" height="0.9" rx="0.45" fill="#fff"/>
<circle cx="367.1" cy="235.1" r="1.5" fill="#fff"/>
</g>
<rect x="309.9" y="248.8" width="47.30000000000001" height="15.099999999999966" fill="#4D80BF"/>
<text x="333.54999999999995" y="260.15000000000003" fill="#fff" font-size="9.5" text-anchor="middle">End user</text>
<rect x="392.2" y="177.2" width="66" height="74.5" fill="#EBF0E0"/>
<text x="424" y="188.6" font-size="9.45" text-anchor="middle" fill="#000"><tspan font-weight="bold">Genuine</tspan> and</text>
<text x="425.2" y="199.4" font-size="9.45" text-anchor="middle" fill="#000" >in which class</text>
<line x1="413" y1="215.2" x2="441.8" y2="215.2" stroke="#76923C" stroke-width="1.9"/>
<path d="M408,215.2 L414,212.2 L414,218.2 Z" fill="#76923C"/>
<text x="424" y="235.8" font-size="9.45" text-anchor="middle" fill="#000" >Please retry</text>
<text x="425.2" y="246.6" font-size="9.45" text-anchor="middle" fill="#000">otherwise <tspan font-weight="bold">fake</tspan></text>
<text x="457.8" y="146" font-size="9.45" text-anchor="start" fill="#000" >Top similar classes</text>
<line x1="549.2" y1="126.7" x2="549.2" y2="155.4" stroke="#76923C" stroke-width="1.9"/>
<path d="M549.2,160.4 L546.2,154.4 L552.2,154.4 Z" fill="#76923C"/>
<g><circle cx="489.2" cy="214.8" r="17" fill="#B1C98B" fill-opacity="1.0"/><path d="M482.7,204.9L482.6,204.0L483.5,203.9M482.3,203.0L483.0,203.8L483.7,203.8M483.7,224.6L483.6,225.4L484.1,226.1M501.2,209.8L501.5,209.3L502.0,208.8M502.2,216.3L502.9,215.5L502.6,214.9M480.5,214.1L481.0,214.9L481.7,215.6M500.1,215.3L500.8,215.0L500.9,214.1M500.4,214.6L500.8,215.4L500.1,215.8M490.3,207.2L491.2,207.3L491.7,207.2M479.4,203.0L478.3,203.1L477.5,203.5M493.7,207.1L493.1,207.1L492.1,207.0M491.7,208.2L492.4,208.5L493.1,208.9M476.4,207.0L477.4,206.8L478.1,206.3M495.6,209.6L494.7,209.8L494.4,209.1M480.8,224.7L480.4,225.6L480.2,226.1M478.4,204.3L477.6,204.3L477.1,205.1M488.6,218.0L487.7,217.8L487.5,217.1M485.8,217.5L485.7,216.8L486.3,216.1M484.0,216.5L484.9,216.6L485.4,217.0M481.4,224.2L482.5,224.1L482.7,224.6M495.0,204.1L495.4,203.2L496.0,203.4M488.1,208.3L488.1,207.6L487.7,206.8M496.6,203.0L495.9,203.5L495.5,204.3M497.4,225.2L497.4,224.4L498.0,224.2M486.2,208.2L486.8,207.9L486.4,207.2M482.3,217.9L482.5,218.9L481.9,219.5M499.0,225.5L499.1,226.5L499.6,226.8M497.4,216.5L498.4,216.3L499.0,216.0M498.2,205.9L497.4,206.6L496.5,206.6M477.0,214.1L476.2,213.4L475.5,213.4M498.2,207.2L498.8,207.4L499.3,207.7M492.2,229.8L491.3,230.1L490.6,230.4M476.1,206.5L475.6,206.1L475.0,205.6M486.2,225.3L487.2,224.9L487.8,224.7M494.2,204.2L494.0,205.3L493.6,206.1M492.6,221.4L492.9,220.7L492.9,219.7M496.1,219.2L496.8,219.7L496.4,220.3M498.6,206.1L499.4,206.4L500.1,206.8M484.2,208.7L483.5,208.3L483.9,207.4M493.7,226.3L493.2,225.9L492.4,226.2M492.7,212.2L493.7,212.3L494.1,213.0M493.4,228.0L493.4,226.9L492.9,226.2M489.0,212.4L488.6,212.0L487.9,211.9M480.2,203.7L480.1,202.8L480.3,202.0M484.5,225.6L484.1,226.1L483.2,226.3M499.2,216.7L499.0,215.7L498.4,215.0M496.3,208.5L495.6,208.6L495.1,208.9M503.9,212.6L504.4,211.9L504.3,211.2M484.0,207.0L484.7,206.8L485.1,206.0M490.9,203.6L490.8,202.9L491.5,202.6M493.7,218.6L493.6,217.7L492.6,217.8M502.5,222.8L502.6,222.1L503.0,221.2M481.5,227.2L480.8,226.9L480.4,226.0M489.6,216.1L488.9,216.9L489.5,217.7M475.0,220.4L474.1,220.0L473.6,219.1M476.8,209.0L476.6,207.9L475.8,207.7M503.7,213.9L503.6,213.1L504.3,212.6M483.8,214.9L483.1,215.5L482.2,215.3M488.2,214.4L488.2,213.6L488.7,213.0M495.7,210.6L495.9,211.1L496.1,211.8M503.9,211.0L504.0,210.3L504.3,209.6M499.0,217.4L498.1,217.6L497.9,216.7M501.3,223.2L501.9,223.9L502.0,224.5M500.0,211.8L499.2,212.5L499.5,212.9M500.1,221.3L499.2,220.9L499.0,220.2M482.2,203.6L481.6,203.1L481.4,202.3M491.9,221.4L490.9,221.4L490.4,222.0M482.8,202.9L483.7,202.8L483.9,202.1M500.2,221.6L500.3,222.6L499.7,222.7M486.2,222.5L486.0,223.3L485.6,223.8M495.3,218.1L496.2,218.3L496.4,218.9M498.9,213.8L499.7,213.4L499.8,212.5M501.1,221.3L501.8,221.4L502.3,222.1M494.1,211.7L494.3,211.1L494.7,210.7M494.5,220.7L494.7,219.7L494.1,219.5M492.5,220.2L493.4,219.9L494.1,219.6M489.2,201.2L488.8,202.1L489.5,202.4M480.4,212.3L479.8,213.1L480.5,213.6M485.0,221.2L485.6,221.5L486.1,220.8M483.9,223.5L484.5,223.8L485.1,224.0M487.3,211.7L487.4,212.8L486.6,212.9M479.8,204.6L479.4,204.1L479.6,203.1M477.1,220.3L477.9,221.1L478.3,221.8M495.3,212.7L495.1,213.5L495.4,214.5M492.4,211.3L491.8,210.6L491.6,209.7M494.6,217.3L495.3,217.6L495.8,216.9M499.5,219.9L500.3,220.3L500.6,221.1M497.3,207.0L498.0,206.6L498.4,207.1M486.0,205.5L486.5,206.5L485.9,207.1M484.5,224.4L484.7,225.1L484.4,225.6M485.0,220.6L484.5,221.4L484.0,221.3M490.2,210.2L489.8,209.6L489.2,209.4M494.9,205.5L495.5,205.7L496.0,205.1M488.1,218.5L488.0,219.6L487.3,219.6M494.4,225.1L493.7,225.9L493.5,226.4M498.1,205.6L498.7,205.2L499.6,205.5M487.6,212.6L488.3,212.0L488.9,212.2M488.0,229.6L488.6,229.6L489.3,229.4M481.0,216.2L480.3,216.3L479.6,216.2M479.3,215.7L480.2,215.3L480.6,214.9M488.5,221.6L487.8,221.9L487.5,222.3M478.1,215.9L478.2,216.8L477.3,217.0M498.2,218.3L497.6,218.6L496.9,218.9M496.3,220.1L495.5,220.2L495.2,219.3M491.2,209.5L490.7,209.0L489.9,208.9M488.0,210.9L487.3,211.0L486.5,211.1M500.8,206.7L500.2,205.9L499.5,206.4M482.1,202.9L482.6,203.5L483.5,204.0M497.8,217.1L498.4,216.4L499.2,216.0M487.3,215.3L487.2,214.5L487.7,214.1M497.4,201.7L497.2,202.4L497.5,202.8M490.5,216.9L489.9,217.6L490.4,218.1M488.5,200.3L488.2,199.7L488.6,199.3M485.2,224.8L485.4,224.1L486.3,224.2M490.4,217.3L489.6,217.8L488.8,218.1M493.2,208.2L493.7,209.1L493.9,209.8M480.4,222.4L480.3,223.3L480.8,223.8M504.2,214.7L504.7,215.2L504.6,215.8M498.1,219.7L498.6,218.8L498.3,218.1M493.5,220.8L493.5,219.7L493.8,219.3M493.6,205.4L494.6,205.2L494.6,204.3M493.4,219.8L494.1,220.2L495.0,220.0M477.8,208.2L477.0,208.5L476.2,208.7M479.7,213.5L479.0,213.2L478.5,212.8M495.4,207.3L496.2,207.1L497.1,206.5M492.7,207.6L492.5,207.0L492.7,206.5M497.1,210.5L496.4,210.7L495.5,210.3M474.7,218.0L474.2,219.0L473.8,218.7M474.3,210.7L473.7,211.1L473.1,211.0M479.6,223.8L478.8,223.9L478.8,223.0M500.4,224.4L499.3,224.3L498.6,224.0M478.9,217.9L478.5,218.6L478.4,219.5M492.5,206.6L492.2,205.8L492.5,205.2M485.5,210.9L485.3,211.7L485.7,212.2M490.6,202.8L489.9,203.6L489.4,203.8M485.4,215.9L484.9,215.1L484.0,215.4M478.9,221.1L478.3,220.9L478.1,220.0M489.2,219.4L489.5,220.0L488.9,220.6M496.7,215.9L497.3,216.3L498.0,215.9M486.7,218.3L486.5,219.2L485.8,219.3M487.9,229.9L487.8,230.5L488.8,230.7M493.1,210.6L492.6,211.3L493.1,212.0M494.5,200.1L494.5,199.1L494.4,198.5M488.4,216.7L489.2,217.0L489.5,216.6M475.8,218.9L474.9,219.1L474.0,219.0M479.3,219.1L480.4,219.1L481.0,218.5M489.3,204.2L488.4,204.2L487.9,204.4M496.6,215.9L495.9,215.8L495.4,215.3M492.0,221.1L493.1,221.0L493.3,221.5M485.4,215.7L484.9,216.5L484.1,216.9M478.0,223.3L477.2,223.2L476.9,222.7M485.3,222.4L485.4,223.1L485.2,223.7M488.0,217.3L488.2,216.3L489.1,216.2M485.2,224.9L486.0,225.3L486.5,225.8M490.5,211.0L489.7,210.9L489.4,210.0M486.4,205.0L485.4,204.8L485.0,204.3M489.6,211.3L490.5,211.8L491.3,211.3M474.9,209.4L475.8,209.8L476.2,209.0M481.5,202.5L481.0,203.3L481.5,204.0M488.0,201.6L489.1,201.8L489.6,202.3M483.9,226.8L484.3,226.0L484.4,225.4M492.6,205.7L492.4,204.9L493.0,204.5M499.0,221.2L500.0,220.8L500.6,221.0M492.2,221.7L492.5,220.7L492.6,220.1M489.1,200.9L489.8,200.4L490.4,200.9M503.0,217.2L502.0,217.2L501.3,216.5M484.4,226.2L484.3,225.1L484.7,224.4M492.9,214.8L493.0,215.6L492.6,216.0M492.2,215.5L492.9,215.5L493.7,215.0M484.3,229.3L483.7,228.8L482.8,228.7M488.4,213.2L488.4,212.2L488.7,211.3M480.4,203.6L481.4,204.0L481.9,203.6M480.5,214.6L480.1,215.3L480.2,215.9M482.9,203.1L483.9,203.5L484.4,203.1M497.8,204.0L498.8,203.7L499.8,203.6M496.9,203.1L498.0,203.0L498.7,202.8M496.3,203.2L496.2,202.4L495.6,202.4M501.3,206.3L502.1,206.5L502.7,206.8M491.5,212.0L491.0,211.4L490.5,210.9M498.7,206.6L498.0,206.3L497.1,206.3M481.1,225.6L481.9,225.1L482.4,226.0M485.3,216.2L486.4,216.2L486.8,215.8M499.6,209.7L499.0,208.9L499.0,208.1M479.5,210.3L480.2,210.4L480.1,211.0M480.8,214.0L480.7,213.3L481.4,212.8M486.7,217.6L487.6,217.3L487.7,216.4M485.4,217.0L484.9,217.9L484.4,218.8M489.4,203.8L490.4,203.9L491.0,204.1M500.8,206.4L501.1,206.9L501.2,207.8M484.4,212.6L485.0,212.8L485.9,213.1" stroke="#fff" stroke-width="0.6" fill="none" stroke-linecap="round" stroke-linejoin="round" opacity="0.85"/></g>
<text x="511.5" y="220.3" font-size="10" text-anchor="start" fill="#000" >VS</text>
<g><circle cx="569.5" cy="214.8" r="16.6" fill="#8B7BBE" fill-opacity="0.25"/><path d="M566.4,201.0L566.2,200.3L566.0,199.8M573.5,220.6L573.0,220.8L573.0,221.7M570.7,226.6L570.9,227.5L571.8,227.5M580.8,207.0L581.3,207.8L581.5,208.4M571.1,228.6L571.5,229.5L570.8,229.9M564.6,216.0L564.0,215.6L564.1,214.9M558.6,215.6L559.6,215.6L560.0,216.5M559.6,220.6L559.4,221.2L559.7,221.9M567.8,205.2L568.5,205.2L568.8,205.8M565.8,224.2L565.2,223.6L564.5,223.8M568.0,220.0L567.1,220.5L566.3,220.2M567.7,225.2L566.9,225.1L566.1,225.0M565.1,220.7L564.6,221.1L565.0,221.9M567.0,206.3L567.5,205.5L567.9,204.7M580.4,217.7L580.6,216.9L580.8,216.1M581.5,211.1L581.0,210.6L580.8,209.8M569.1,213.9L568.5,213.2L567.9,212.9M571.7,226.2L571.9,225.5L572.3,224.8M574.9,221.0L575.8,220.4L576.6,220.1M567.9,224.8L567.3,224.8L566.5,224.5M577.6,211.5L578.1,212.0L578.5,212.7M583.6,216.3L583.8,215.7L584.6,215.5M570.8,213.7L570.6,214.6L569.9,214.5M570.6,218.9L570.5,218.2L570.1,217.7M576.8,221.8L577.8,221.6L577.9,221.1M580.7,212.9L580.8,212.3L581.3,212.1M568.2,204.1L567.4,204.5L566.8,204.4M567.8,220.0L568.4,220.3L568.7,219.8M575.7,225.9L575.1,226.1L574.9,226.7M574.3,228.9L575.0,229.6L575.7,229.7M559.3,215.9L560.3,216.0L560.3,216.6M573.4,200.9L572.8,200.2L572.1,199.8M572.5,200.6L571.5,200.3L571.3,200.9M567.9,213.1L567.5,212.4L567.0,212.4M556.0,213.4L555.1,213.4L554.7,214.2M579.1,209.8L578.8,208.7L579.2,208.3M574.3,226.7L573.6,227.4L573.4,228.1M581.1,213.3L581.6,214.2L582.6,214.2M565.9,208.8L565.4,208.4L565.1,207.8M558.1,210.3L558.3,209.6L558.7,208.9M578.9,203.2L579.7,203.1L580.0,203.6M578.2,219.8L577.6,220.1L576.8,220.6M568.6,214.3L569.2,214.9L568.8,215.6M577.0,208.0L577.2,207.4L577.3,206.7M571.0,212.3L570.8,212.9L571.2,213.7M562.6,214.5L561.7,214.5L561.2,213.8M567.4,226.9L566.9,226.3L566.8,225.5M583.8,219.1L584.4,218.2L584.3,217.4M568.3,200.6L569.1,200.3L569.7,200.9M561.7,214.5L561.1,214.7L561.2,215.6M572.6,228.8L571.8,228.2L571.3,228.6M558.6,205.9L559.5,205.7L560.2,206.1M568.6,228.8L569.1,229.7L570.1,229.8M569.1,222.0L569.7,222.3L569.4,222.9M583.6,220.7L582.9,221.3L582.5,220.9M559.8,216.7L559.6,217.3L559.5,218.1M559.1,212.8L559.3,213.5L559.5,214.0M576.1,209.3L577.0,208.7L577.8,208.2M578.8,221.5L577.7,221.5L577.2,221.9M566.1,218.0L566.9,218.7L567.4,219.2M561.7,210.7L562.2,211.6L562.8,211.9M555.1,219.0L554.4,219.7L553.7,219.2M579.1,210.3L579.4,211.3L579.3,211.9M571.9,221.0L571.7,221.9L571.0,222.4M572.0,224.4L572.8,224.8L573.3,225.5M575.2,219.6L575.1,220.2L575.6,220.8M568.2,227.2L568.8,227.1L569.5,226.4M556.8,213.6L556.3,214.4L555.9,214.8M581.1,213.9L581.6,213.5L581.7,213.0M568.7,203.1L569.6,202.9L570.4,202.3M567.4,213.4L567.2,212.6L567.8,211.9M559.6,219.6L560.1,219.2L559.7,218.8M559.7,212.8L559.1,213.4L558.9,213.9M559.5,225.5L558.8,225.3L558.4,225.7M579.2,224.4L578.8,225.3L579.4,225.7M569.5,204.4L569.4,203.7L568.5,203.4M570.4,214.1L569.8,214.9L569.0,214.7M559.6,216.3L560.6,216.6L560.5,217.1M570.6,230.0L571.6,230.2L572.1,229.8M569.9,201.3L569.5,201.9L569.0,202.0" stroke="#fff" stroke-width="0.6" fill="none" stroke-linecap="round" stroke-linejoin="round" opacity="0.6"/></g>
<g><circle cx="559.3" cy="214.8" r="16.6" fill="#8B7BBE" fill-opacity="0.45"/><path d="M546.5,219.2L546.3,218.6L545.7,217.8M554.3,214.4L555.1,214.0L556.0,213.5M558.7,201.7L559.1,200.8L558.9,200.3M556.0,214.4L556.0,213.7L555.8,213.1M558.9,221.8L558.2,222.0L557.4,222.3M569.3,222.2L568.6,222.7L568.4,223.3M555.3,208.3L555.0,208.9L554.8,209.8M562.8,216.8L563.4,217.1L564.2,216.8M555.3,206.2L555.3,206.9L554.5,207.0M568.7,218.8L567.9,218.2L567.4,218.5M553.9,206.3L554.6,206.4L554.4,207.2M562.7,201.6L563.6,202.1L564.2,201.9M557.6,229.6L558.1,230.5L558.7,231.1M553.6,217.1L553.9,217.7L554.1,218.4M565.5,210.7L565.1,210.1L564.2,210.3M560.1,219.4L560.7,220.2L561.3,220.0M566.0,205.2L566.0,204.3L566.7,204.1M562.6,200.2L563.0,199.5L563.0,198.9M568.4,224.1L567.9,224.8L567.3,224.3M567.9,223.8L568.7,223.9L569.2,224.1M565.4,220.4L564.8,219.8L564.1,219.5M568.2,205.5L567.3,205.3L566.5,205.7M559.2,217.5L558.8,218.4L557.9,218.7M546.9,218.4L547.6,218.8L548.1,219.6M545.5,221.1L545.4,220.3L545.2,219.9M553.1,224.3L552.4,224.7L551.5,224.9M554.4,228.2L554.6,227.5L554.8,226.6M564.4,226.9L565.0,227.3L564.8,227.8M556.4,219.5L555.4,220.0L555.2,220.6M555.5,210.1L555.3,209.4L554.5,209.4M566.7,216.5L567.0,217.1L567.4,217.5M545.8,214.0L546.3,214.5L547.1,215.2M574.5,213.5L573.9,214.0L573.1,213.8M557.1,219.5L557.5,219.9L557.5,220.5M548.8,209.7L548.9,210.3L548.4,211.1M551.9,216.1L552.1,215.1L551.4,214.7M565.8,205.9L566.5,206.4L567.2,206.2M572.4,207.1L573.1,207.1L573.8,206.8M548.4,220.6L548.0,221.2L547.4,221.7M555.5,225.5L554.6,225.7L554.1,225.8M547.2,217.8L546.6,217.4L546.2,216.8M567.3,227.4L568.4,227.1L569.1,227.6M570.0,204.5L569.6,205.5L569.1,205.8M565.2,228.1L566.0,228.1L566.9,228.0M553.2,221.4L553.0,220.8L553.0,220.3M551.3,212.7L551.5,213.5L550.8,214.0M557.6,226.1L557.6,225.2L558.3,224.5M568.5,213.9L568.1,213.4L568.0,212.8M565.4,215.7L566.0,215.2L565.3,214.5M552.6,213.5L552.2,214.0L552.5,214.8M564.7,211.7L564.9,211.1L564.9,210.2M552.2,219.8L553.1,220.1L553.3,220.8M561.1,218.3L561.5,219.3L561.8,220.0M552.0,203.5L552.5,203.0L553.2,202.4M569.3,223.2L569.2,224.0L569.9,224.7M571.9,209.8L572.4,209.0L573.0,208.8M562.6,210.5L561.7,210.5L561.5,211.0M572.2,222.0L571.6,221.4L571.5,220.6M561.3,209.3L562.3,209.7L562.1,210.2M560.8,226.7L561.7,227.3L562.3,227.5M556.7,220.8L556.1,220.1L555.5,220.4M573.7,216.9L573.6,216.2L574.0,215.5M558.5,206.4L559.1,206.8L558.7,207.5M545.1,209.9L545.7,209.9L546.2,209.5M551.4,202.2L550.5,202.2L550.2,201.6M551.2,222.7L551.6,221.7L552.2,221.8M566.9,212.5L566.3,212.5L565.8,212.7M554.9,216.5L555.1,215.7L555.0,215.0M560.5,202.8L560.8,201.9L560.8,201.3M568.5,209.2L569.1,208.9L569.7,209.2M565.8,213.6L566.0,214.6L565.9,215.2M568.7,208.1L568.6,208.8L569.2,209.1M565.7,204.9L565.3,205.8L564.7,205.8M568.1,225.2L567.3,224.9L567.3,224.0M556.3,209.2L557.2,209.8L557.9,210.1M556.1,201.2L555.2,201.6L555.1,202.2M553.3,228.0L552.8,227.4L552.3,227.2M566.3,203.9L566.8,204.6L567.6,204.6M568.0,221.0L569.0,220.9L569.9,220.6M569.2,222.1L568.2,222.6L567.9,221.8M570.3,210.4L570.6,211.1L571.5,210.9M567.6,227.5L567.4,228.2L566.5,228.3M555.9,213.2L556.5,212.7L556.5,212.1M558.2,228.7L558.4,229.3L557.9,229.6M564.7,209.6L563.9,210.1L563.4,209.8M546.6,218.7L546.0,218.8L545.6,219.3M552.8,220.3L552.3,219.6L551.6,219.6M563.6,203.6L563.6,202.6L563.8,201.9M557.3,228.0L557.8,227.0L558.4,227.0M560.0,218.1L561.0,217.8L561.2,218.5M557.2,210.0L557.9,209.5L557.5,209.0M565.2,223.7L565.5,224.7L565.0,225.2M570.4,209.8L570.9,210.5L571.4,210.1M557.5,205.5L556.8,205.4L556.7,205.9M563.4,215.9L563.2,216.9L562.7,217.3M556.4,211.2L557.1,211.2L557.8,211.9M549.7,206.2L549.1,205.5L549.4,205.0M548.9,215.6L548.3,215.9L547.9,215.3M552.5,215.6L552.3,214.9L552.2,214.1M547.3,207.6L546.9,207.0L547.3,206.6M551.9,208.7L551.3,209.4L551.5,210.0M563.5,208.0L563.9,208.4L564.6,208.0M562.4,202.7L563.1,202.3L563.6,202.4M548.0,222.5L547.0,222.4L546.6,221.9M570.9,222.0L571.7,222.2L572.5,222.7M550.3,207.9L551.0,208.2L550.7,208.9M554.8,225.6L555.7,225.4L555.9,226.2M555.1,226.5L555.7,226.7L556.5,226.8M563.0,208.8L563.6,208.1L563.7,207.3M557.1,215.4L556.7,216.2L556.1,216.6" stroke="#fff" stroke-width="0.6" fill="none" stroke-linecap="round" stroke-linejoin="round" opacity="0.7"/></g>
<g><circle cx="546.1" cy="214.8" r="16.6" fill="#8B7BBE" fill-opacity="0.75"/><path d="M541.4,214.3L541.0,215.0L541.0,215.9M543.2,222.5L543.2,223.6L543.2,224.4M546.8,226.6L546.0,227.0L545.5,226.2M555.2,225.1L554.5,224.9L554.4,224.4M543.9,207.4L543.3,208.1L542.6,207.8M542.4,209.6L542.1,210.6L542.6,211.2M536.4,220.2L537.2,219.5L537.7,218.8M542.7,208.9L541.7,208.5L540.9,208.8M538.4,220.7L537.9,221.1L537.4,221.5M557.2,217.4L558.0,217.9L558.5,217.3M542.1,219.7L542.3,218.7L542.3,218.0M557.9,213.6L558.4,213.2L558.9,212.9M549.6,211.9L548.8,211.8L548.7,211.0M540.6,213.0L541.6,212.8L541.7,213.5M547.3,219.0L548.2,218.5L548.4,217.8M539.2,207.3L539.4,206.7L540.1,206.8M539.9,210.6L539.1,210.8L538.5,210.7M548.5,224.8L549.3,225.1L549.7,224.3M534.8,207.6L534.2,206.9L534.6,206.3M541.4,218.3L542.1,217.8L542.3,217.2M550.7,214.3L550.9,213.4L550.7,212.7M544.4,221.3L544.2,220.8L543.9,220.1M546.0,217.8L546.0,216.7L545.5,216.3M536.2,213.3L535.4,213.6L534.4,213.7M551.8,226.1L552.6,226.8L552.8,227.6M547.9,221.6L547.5,221.0L546.8,220.5M556.3,217.9L556.8,217.0L556.2,216.5M550.0,215.6L550.7,214.9L551.1,214.6M550.9,220.4L551.6,220.7L552.4,220.5M555.3,218.3L555.8,217.9L555.2,217.2M547.9,224.7L548.5,224.6L549.0,225.4M532.0,215.7L531.2,215.7L531.0,216.4M554.4,212.6L553.8,212.0L554.3,211.4M554.9,221.5L555.7,222.1L556.3,222.5M556.8,216.5L556.7,215.7L557.4,215.0M539.5,209.6L538.7,210.0L538.2,210.0M554.5,208.5L554.0,209.1L554.5,209.8M557.3,218.7L557.1,219.3L556.4,219.4M550.5,201.1L550.0,200.4L550.5,199.7M553.2,224.1L553.1,223.3L553.6,223.1M542.0,207.7L542.5,208.4L542.5,209.3M552.5,210.8L552.9,211.4L552.7,212.3M543.5,201.9L544.4,201.7L545.0,201.9M551.9,202.4L552.6,202.8L552.3,203.8M540.4,216.7L541.0,215.8L541.0,215.1M549.3,204.1L549.9,204.4L550.0,204.9M540.3,202.1L540.3,201.3L539.6,201.2M531.8,211.0L532.9,211.2L533.0,211.9M532.9,215.9L533.2,215.3L533.8,215.4M553.0,209.9L554.0,210.3L554.9,209.9M540.1,217.3L539.1,217.1L539.2,216.2M548.3,219.9L548.1,219.1L547.2,219.0M549.6,205.2L549.1,204.8L548.7,204.2M544.1,209.2L545.1,209.3L545.5,208.8M545.6,215.9L545.5,214.8L545.9,214.0M535.6,218.8L536.2,219.2L536.8,218.9M560.9,215.4L561.5,215.0L561.4,214.3M549.4,213.6L548.9,213.1L548.4,212.8M535.3,219.4L534.8,220.1L534.7,221.0M559.2,220.7L558.5,221.0L558.6,221.7M550.0,224.2L550.7,223.5L550.8,222.7M549.5,217.9L550.2,218.2L551.0,218.3M547.2,224.4L546.9,223.5L546.8,222.9M547.0,214.0L547.5,213.1L547.6,212.2M544.2,203.5L544.9,203.9L545.5,203.6M543.6,219.7L544.0,219.0L544.9,219.1M537.1,207.2L536.6,206.7L535.9,206.7M545.6,212.9L545.8,212.2L546.1,211.5M556.2,204.6L555.6,204.9L555.2,204.1M540.8,203.2L541.6,203.7L541.2,204.2M541.3,219.8L540.8,219.0L540.4,218.4M547.5,224.2L547.3,224.8L546.5,225.2M538.3,202.2L537.4,201.9L536.7,202.2M557.0,214.1L556.6,214.8L555.8,214.4M543.2,214.8L542.2,214.7L542.0,214.3M553.5,218.8L553.6,219.6L554.4,220.2M554.8,219.3L554.7,218.7L554.2,218.4M540.2,213.8L540.2,213.0L539.6,212.7M553.2,221.8L553.9,222.2L553.8,222.9M537.1,224.2L537.8,224.2L538.4,224.0M558.7,210.3L559.5,209.8L559.3,208.9M547.2,201.1L547.9,201.4L548.5,201.3M548.8,207.9L548.1,207.6L547.6,207.2M545.6,213.4L544.7,213.8L544.2,214.4M548.2,226.2L548.5,227.1L548.5,227.8M543.1,206.2L543.7,205.9L544.3,206.4M534.9,207.7L534.5,206.9L534.6,206.1M540.1,206.7L539.5,206.3L539.9,205.7M539.5,227.6L539.6,226.7L539.2,225.9M546.4,209.1L546.7,208.3L547.3,208.2M550.4,224.6L551.3,224.0L551.7,223.6M553.3,210.6L553.5,211.2L553.9,211.7M538.2,209.8L538.9,209.7L539.5,210.1M534.3,218.2L535.1,217.6L536.0,217.5M541.2,207.3L542.2,207.1L542.5,206.6M550.1,201.9L550.0,202.7L549.4,203.2M538.0,214.1L538.6,214.0L539.3,213.4M537.2,214.3L536.6,214.6L536.1,214.0M536.9,213.8L537.2,213.2L537.3,212.4M549.4,221.9L548.3,221.9L547.9,222.4M547.3,227.5L547.3,228.2L547.9,228.6M543.8,209.8L542.7,209.8L542.3,210.0M547.6,227.2L546.8,227.1L546.6,227.7M543.5,218.4L542.6,218.5L542.2,217.6M534.0,213.5L534.5,214.1L535.2,214.4M553.9,219.0L552.9,219.1L552.5,219.9M543.9,214.9L543.2,215.0L542.3,215.0M533.8,217.9L534.5,217.8L535.0,218.2M548.3,220.3L547.4,220.0L546.9,220.0M541.3,213.5L541.1,214.4L540.4,214.6M541.7,221.4L542.1,220.5L541.8,220.0M542.2,220.5L541.6,220.2L541.5,219.7M533.8,212.6L534.1,212.1L533.7,211.4M556.1,210.9L555.7,210.3L556.2,209.8M534.8,212.8L534.7,213.6L535.3,214.2M553.5,216.1L552.9,215.4L552.2,215.3M553.5,209.3L552.6,209.7L551.7,210.1M536.8,209.3L537.4,208.5L537.6,207.9M552.2,226.8L552.3,226.0L553.1,225.8M543.5,229.3L544.1,229.7L543.9,230.3M548.9,210.9L548.3,210.8L547.7,210.6M546.6,219.4L546.7,220.0L547.2,220.3M553.3,207.1L552.7,206.2L552.0,206.2M537.2,205.0L537.8,205.7L538.3,206.2M543.1,213.7L543.3,214.5L542.6,214.9M553.6,221.6L553.6,220.9L553.7,219.9M553.0,224.1L552.8,223.6L552.3,223.4M535.9,220.3L536.6,220.6L537.0,220.9M538.7,213.9L538.0,213.8L537.5,214.2M535.0,219.2L534.7,219.7L534.4,220.3M551.3,216.0L550.6,215.7L550.2,216.5M539.5,202.1L540.4,201.6L540.5,200.8M550.8,205.7L551.5,204.9L551.8,204.5M548.4,208.6L548.6,207.9L548.4,207.0M548.9,202.3L549.9,201.7L550.3,201.3M533.8,219.2L533.0,218.7L533.3,217.9M544.3,209.6L545.1,209.6L545.9,209.7M533.1,206.8L532.4,207.1L532.1,206.6M552.8,204.9L552.7,204.1L553.6,203.9M548.8,212.0L549.5,212.1L549.6,212.7M552.1,205.8L551.3,206.0L551.1,206.9M552.7,223.8L553.5,223.7L553.8,224.5M544.5,204.7L544.3,205.6L544.8,206.2M535.1,218.8L535.8,218.2L535.6,217.3M551.2,208.1L551.9,208.0L552.3,207.7M537.5,203.8L538.0,204.8L538.5,205.1M553.1,201.3L553.8,202.1L553.1,202.7M537.1,208.5L537.7,209.2L537.1,209.8M542.5,207.8L542.5,207.1L543.0,207.1M544.6,219.6L543.7,219.6L543.7,218.7M540.1,202.6L539.9,202.0L540.2,201.3M535.0,209.3L535.8,209.5L536.0,210.0M554.1,205.7L554.4,206.5L554.6,207.4M552.1,206.4L551.7,207.4L551.1,207.7M548.8,201.6L547.9,201.3L547.5,200.4M535.0,206.1L534.8,205.4L534.1,204.9M547.4,207.5L548.1,207.9L548.7,208.5M545.0,223.7L544.3,222.9L544.8,222.3M538.7,210.9L539.4,210.4L539.1,209.8M553.3,223.1L554.1,222.8L554.7,222.8M554.1,219.6L553.5,218.8L553.1,219.1M543.9,221.0L544.3,220.0L545.0,220.3M550.8,211.0L550.3,210.3L549.8,210.1M536.4,218.3L536.8,218.9L537.4,218.9M541.0,220.3L541.2,219.4L541.6,218.8M557.1,222.2L557.1,221.3L557.4,220.5M537.2,207.5L537.6,208.1L537.4,208.5M548.1,219.1L548.9,218.8L549.2,219.4M546.1,211.2L546.0,211.9L546.2,212.6M531.9,218.7L531.6,218.2L530.8,218.0M544.2,219.3L545.1,219.6L545.8,220.0M537.5,211.8L536.8,211.3L536.3,211.6M536.2,204.5L535.9,203.6L535.6,203.2M543.1,229.2L543.7,228.9L544.2,229.4M546.1,220.4L545.7,219.4L545.2,218.8M560.0,214.9L560.1,215.6L559.6,216.3M535.5,225.1L536.0,224.6L536.9,224.9M534.3,208.7L535.3,208.5L535.1,207.6M543.1,221.5L542.2,221.2L542.3,220.7M553.2,222.0L552.7,221.5L552.3,220.8M541.0,207.6L540.7,206.6L541.0,205.9M557.4,215.4L556.4,215.6L555.7,215.9M543.6,214.9L544.3,214.5L544.1,213.8M541.9,208.7L541.5,208.0L541.0,207.2M533.2,207.7L532.3,207.5L531.4,207.4M549.2,229.7L548.5,230.0L547.7,230.3M556.0,209.3L555.6,208.7L555.0,208.6M538.8,220.0L538.7,220.6L538.7,221.5M535.7,223.5L535.5,222.5L535.6,221.7M540.1,216.6L540.6,216.0L540.0,215.2" stroke="#fff" stroke-width="0.6" fill="none" stroke-linecap="round" stroke-linejoin="round" opacity="0.8"/></g>
<text x="587.3" y="215.9" font-size="9.7" text-anchor="start" fill="#444" >...</text>
<rect x="481.8" y="248" width="100.19999999999999" height="15.5" fill="#4D80BF"/>
<text x="531.9" y="259.55" fill="#fff" font-size="9.5" text-anchor="middle">Similarity comparison</text>
<text x="9.5" y="288.8" font-size="15.5" text-anchor="start" fill="#000" >b</text>
<path d="M64.9,291.5 H283.3 M64.9,459.5 H283.3" stroke="#333" stroke-width="1.1"/>
<path d="M64.9,291.0 V460.0 M283.3,291.0 V460.0" stroke="#858585" stroke-width="1.6"/>
<path d="M64.9,458.40 h-1.5 M64.9,440.80 h-2.6 M64.9,423.20 h-1.5 M64.9,405.60 h-2.6 M64.9,388.00 h-1.5 M64.9,370.40 h-2.6 M64.9,352.80 h-1.5 M64.9,335.20 h-2.6 M64.9,317.60 h-1.5 M64.9,300.00 h-2.6 M86.25,459.5 v2.6 M108.12,459.5 v1.5 M130.00,459.5 v2.6 M151.88,459.5 v1.5 M173.75,459.5 v2.6 M195.62,459.5 v1.5 M217.50,459.5 v2.6 M239.38,459.5 v1.5 M261.25,459.5 v2.6 M283.12,459.5 v1.5" stroke="#3a3a3a" stroke-width="0.9"/>
<text x="59.3" y="444.6" font-size="10.8" text-anchor="end" fill="#000" >0</text>
<text x="59.3" y="409.40000000000003" font-size="10.8" text-anchor="end" fill="#000" >200</text>
<text x="59.3" y="374.2" font-size="10.8" text-anchor="end" fill="#000" >400</text>
<text x="59.3" y="339.00000000000006" font-size="10.8" text-anchor="end" fill="#000" >600</text>
<text x="59.3" y="303.8" font-size="10.8" text-anchor="end" fill="#000" >800</text>
<text x="86.25" y="473.2" font-size="10.8" text-anchor="middle" fill="#000" >0</text>
<text x="130.0" y="473.2" font-size="10.8" text-anchor="middle" fill="#000" >50</text>
<text x="173.75" y="473.2" font-size="10.8" text-anchor="middle" fill="#000" >100</text>
<text x="217.5" y="473.2" font-size="10.8" text-anchor="middle" fill="#000" >150</text>
<text x="261.25" y="473.2" font-size="10.8" text-anchor="middle" fill="#000" >200</text>
<text x="174.3" y="490.7" font-size="12.45" text-anchor="middle" fill="#000">Newly added image</text>
<text transform="translate(29,375) rotate(-90)" font-size="12.4" text-anchor="middle" fill="#000">Epoch</text>
<g fill="#D64545"><rect x="86.58" y="304.48" width="1.6" height="1.6"/><rect x="87.45" y="346.72" width="1.6" height="1.6"/><rect x="88.33" y="392.48" width="1.6" height="1.6"/><rect x="89.20" y="420.64" width="1.6" height="1.6"/><rect x="90.08" y="433.49" width="1.6" height="1.6"/><rect x="90.95" y="438.24" width="1.6" height="1.6"/><rect x="91.83" y="440.00" width="1.6" height="1.6"/><rect x="92.70" y="439.12" width="1.6" height="1.6"/><rect x="93.58" y="440.00" width="1.6" height="1.6"/><rect x="94.45" y="440.00" width="1.6" height="1.6"/><rect x="95.33" y="440.00" width="1.6" height="1.6"/><rect x="96.20" y="438.59" width="1.6" height="1.6"/><rect x="97.08" y="440.00" width="1.6" height="1.6"/><rect x="97.95" y="438.59" width="1.6" height="1.6"/><rect x="98.83" y="440.00" width="1.6" height="1.6"/><rect x="99.70" y="440.00" width="1.6" height="1.6"/><rect x="100.58" y="440.00" width="1.6" height="1.6"/><rect x="101.45" y="440.00" width="1.6" height="1.6"/><rect x="102.33" y="438.59" width="1.6" height="1.6"/><rect x="103.20" y="440.00" width="1.6" height="1.6"/><rect x="104.08" y="440.00" width="1.6" height="1.6"/><rect x="104.95" y="440.00" width="1.6" height="1.6"/><rect x="105.83" y="440.00" width="1.6" height="1.6"/><rect x="106.70" y="435.07" width="1.6" height="1.6"/><rect x="107.58" y="437.18" width="1.6" height="1.6"/><rect x="108.45" y="437.18" width="1.6" height="1.6"/><rect x="109.33" y="437.18" width="1.6" height="1.6"/><rect x="110.20" y="440.00" width="1.6" height="1.6"/><rect x="111.08" y="437.18" width="1.6" height="1.6"/><rect x="111.95" y="440.00" width="1.6" height="1.6"/><rect x="112.83" y="437.18" width="1.6" height="1.6"/><rect x="113.70" y="440.00" width="1.6" height="1.6"/><rect x="114.58" y="437.18" width="1.6" height="1.6"/><rect x="115.45" y="437.18" width="1.6" height="1.6"/><rect x="116.33" y="440.00" width="1.6" height="1.6"/><rect x="117.20" y="433.49" width="1.6" height="1.6"/><rect x="118.08" y="437.18" width="1.6" height="1.6"/><rect x="118.95" y="440.00" width="1.6" height="1.6"/><rect x="119.83" y="440.00" width="1.6" height="1.6"/><rect x="120.70" y="440.00" width="1.6" height="1.6"/><rect x="121.58" y="437.18" width="1.6" height="1.6"/><rect x="122.45" y="440.00" width="1.6" height="1.6"/><rect x="123.33" y="440.00" width="1.6" height="1.6"/><rect x="124.20" y="440.00" width="1.6" height="1.6"/><rect x="125.08" y="438.59" width="1.6" height="1.6"/><rect x="125.95" y="440.00" width="1.6" height="1.6"/><rect x="126.83" y="440.00" width="1.6" height="1.6"/><rect x="127.70" y="440.00" width="1.6" height="1.6"/><rect x="128.57" y="437.18" width="1.6" height="1.6"/><rect x="129.45" y="437.18" width="1.6" height="1.6"/><rect x="130.32" y="437.18" width="1.6" height="1.6"/><rect x="131.20" y="437.18" width="1.6" height="1.6"/><rect x="132.07" y="437.18" width="1.6" height="1.6"/><rect x="132.95" y="440.00" width="1.6" height="1.6"/><rect x="133.82" y="440.00" width="1.6" height="1.6"/><rect x="134.70" y="440.00" width="1.6" height="1.6"/><rect x="135.57" y="440.00" width="1.6" height="1.6"/><rect x="136.45" y="437.18" width="1.6" height="1.6"/><rect x="137.32" y="440.00" width="1.6" height="1.6"/><rect x="138.20" y="438.59" width="1.6" height="1.6"/><rect x="139.07" y="440.00" width="1.6" height="1.6"/><rect x="139.95" y="440.00" width="1.6" height="1.6"/><rect x="140.82" y="440.00" width="1.6" height="1.6"/><rect x="141.70" y="437.18" width="1.6" height="1.6"/><rect x="142.57" y="440.00" width="1.6" height="1.6"/><rect x="143.45" y="438.59" width="1.6" height="1.6"/><rect x="144.32" y="440.00" width="1.6" height="1.6"/><rect x="145.20" y="440.00" width="1.6" height="1.6"/><rect x="146.07" y="440.00" width="1.6" height="1.6"/><rect x="146.95" y="438.59" width="1.6" height="1.6"/><rect x="147.82" y="440.00" width="1.6" height="1.6"/><rect x="148.70" y="440.00" width="1.6" height="1.6"/><rect x="149.57" y="438.59" width="1.6" height="1.6"/><rect x="150.45" y="440.00" width="1.6" height="1.6"/><rect x="151.32" y="440.00" width="1.6" height="1.6"/><rect x="152.20" y="440.00" width="1.6" height="1.6"/><rect x="153.07" y="437.18" width="1.6" height="1.6"/><rect x="153.95" y="437.18" width="1.6" height="1.6"/><rect x="154.82" y="440.00" width="1.6" height="1.6"/><rect x="155.70" y="437.18" width="1.6" height="1.6"/><rect x="156.57" y="440.00" width="1.6" height="1.6"/><rect x="157.45" y="437.18" width="1.6" height="1.6"/><rect x="158.32" y="440.00" width="1.6" height="1.6"/><rect x="159.20" y="437.18" width="1.6" height="1.6"/><rect x="160.07" y="440.00" width="1.6" height="1.6"/><rect x="160.95" y="437.18" width="1.6" height="1.6"/><rect x="161.82" y="440.00" width="1.6" height="1.6"/><rect x="162.70" y="438.59" width="1.6" height="1.6"/><rect x="163.57" y="440.00" width="1.6" height="1.6"/><rect x="164.45" y="440.00" width="1.6" height="1.6"/><rect x="165.32" y="437.18" width="1.6" height="1.6"/><rect x="166.20" y="440.00" width="1.6" height="1.6"/><rect x="167.07" y="438.59" width="1.6" height="1.6"/><rect x="167.95" y="440.00" width="1.6" height="1.6"/><rect x="168.82" y="440.00" width="1.6" height="1.6"/><rect x="169.70" y="437.18" width="1.6" height="1.6"/><rect x="170.57" y="440.00" width="1.6" height="1.6"/><rect x="171.45" y="438.59" width="1.6" height="1.6"/><rect x="172.32" y="438.59" width="1.6" height="1.6"/><rect x="173.20" y="438.59" width="1.6" height="1.6"/><rect x="174.07" y="438.59" width="1.6" height="1.6"/><rect x="174.95" y="438.59" width="1.6" height="1.6"/><rect x="175.82" y="440.00" width="1.6" height="1.6"/><rect x="176.70" y="426.45" width="1.6" height="1.6"/><rect x="177.57" y="440.00" width="1.6" height="1.6"/><rect x="178.45" y="440.00" width="1.6" height="1.6"/><rect x="179.32" y="440.00" width="1.6" height="1.6"/><rect x="180.20" y="440.00" width="1.6" height="1.6"/><rect x="181.07" y="440.00" width="1.6" height="1.6"/><rect x="181.95" y="440.00" width="1.6" height="1.6"/><rect x="182.82" y="431.73" width="1.6" height="1.6"/><rect x="183.70" y="426.45" width="1.6" height="1.6"/><rect x="184.57" y="440.00" width="1.6" height="1.6"/><rect x="185.45" y="440.00" width="1.6" height="1.6"/><rect x="186.32" y="429.97" width="1.6" height="1.6"/><rect x="187.20" y="426.45" width="1.6" height="1.6"/><rect x="188.07" y="431.90" width="1.6" height="1.6"/><rect x="188.95" y="438.59" width="1.6" height="1.6"/><rect x="189.82" y="440.00" width="1.6" height="1.6"/><rect x="190.70" y="424.69" width="1.6" height="1.6"/><rect x="191.57" y="424.69" width="1.6" height="1.6"/><rect x="192.45" y="435.78" width="1.6" height="1.6"/><rect x="193.32" y="424.69" width="1.6" height="1.6"/><rect x="194.20" y="440.00" width="1.6" height="1.6"/><rect x="195.07" y="429.97" width="1.6" height="1.6"/><rect x="195.95" y="433.84" width="1.6" height="1.6"/><rect x="196.82" y="437.18" width="1.6" height="1.6"/><rect x="197.70" y="426.45" width="1.6" height="1.6"/><rect x="198.57" y="437.18" width="1.6" height="1.6"/><rect x="199.45" y="437.18" width="1.6" height="1.6"/><rect x="200.32" y="429.97" width="1.6" height="1.6"/><rect x="201.20" y="437.18" width="1.6" height="1.6"/><rect x="202.07" y="437.18" width="1.6" height="1.6"/><rect x="202.95" y="440.00" width="1.6" height="1.6"/><rect x="203.82" y="437.18" width="1.6" height="1.6"/><rect x="204.70" y="440.00" width="1.6" height="1.6"/><rect x="205.57" y="433.49" width="1.6" height="1.6"/><rect x="206.45" y="433.49" width="1.6" height="1.6"/><rect x="207.32" y="433.49" width="1.6" height="1.6"/><rect x="208.20" y="419.41" width="1.6" height="1.6"/><rect x="209.07" y="440.00" width="1.6" height="1.6"/><rect x="209.95" y="440.00" width="1.6" height="1.6"/><rect x="210.82" y="440.00" width="1.6" height="1.6"/><rect x="211.70" y="420.99" width="1.6" height="1.6"/><rect x="212.57" y="428.38" width="1.6" height="1.6"/><rect x="213.45" y="437.89" width="1.6" height="1.6"/><rect x="214.32" y="428.38" width="1.6" height="1.6"/><rect x="215.20" y="435.25" width="1.6" height="1.6"/><rect x="216.07" y="428.38" width="1.6" height="1.6"/><rect x="216.95" y="438.24" width="1.6" height="1.6"/><rect x="217.82" y="433.49" width="1.6" height="1.6"/><rect x="218.70" y="438.24" width="1.6" height="1.6"/><rect x="219.57" y="436.48" width="1.6" height="1.6"/><rect x="220.45" y="438.24" width="1.6" height="1.6"/><rect x="221.32" y="435.60" width="1.6" height="1.6"/><rect x="222.20" y="433.49" width="1.6" height="1.6"/><rect x="223.07" y="436.66" width="1.6" height="1.6"/><rect x="223.95" y="440.00" width="1.6" height="1.6"/><rect x="224.82" y="436.66" width="1.6" height="1.6"/><rect x="225.70" y="440.00" width="1.6" height="1.6"/><rect x="226.57" y="436.66" width="1.6" height="1.6"/><rect x="227.45" y="440.00" width="1.6" height="1.6"/><rect x="228.32" y="436.66" width="1.6" height="1.6"/><rect x="229.20" y="440.00" width="1.6" height="1.6"/><rect x="230.07" y="436.66" width="1.6" height="1.6"/><rect x="230.95" y="440.00" width="1.6" height="1.6"/><rect x="231.82" y="440.00" width="1.6" height="1.6"/><rect x="232.70" y="438.24" width="1.6" height="1.6"/><rect x="233.57" y="440.00" width="1.6" height="1.6"/><rect x="234.45" y="431.55" width="1.6" height="1.6"/><rect x="235.32" y="440.00" width="1.6" height="1.6"/><rect x="236.20" y="436.66" width="1.6" height="1.6"/><rect x="237.07" y="440.00" width="1.6" height="1.6"/><rect x="237.95" y="436.66" width="1.6" height="1.6"/><rect x="238.82" y="440.00" width="1.6" height="1.6"/><rect x="239.70" y="436.66" width="1.6" height="1.6"/><rect x="240.57" y="440.00" width="1.6" height="1.6"/><rect x="241.45" y="440.00" width="1.6" height="1.6"/><rect x="242.32" y="440.00" width="1.6" height="1.6"/><rect x="243.20" y="429.97" width="1.6" height="1.6"/><rect x="244.07" y="440.00" width="1.6" height="1.6"/><rect x="244.95" y="440.00" width="1.6" height="1.6"/><rect x="245.82" y="440.00" width="1.6" height="1.6"/><rect x="246.70" y="436.66" width="1.6" height="1.6"/><rect x="247.57" y="440.00" width="1.6" height="1.6"/><rect x="248.45" y="436.66" width="1.6" height="1.6"/><rect x="249.32" y="440.00" width="1.6" height="1.6"/><rect x="250.20" y="436.66" width="1.6" height="1.6"/><rect x="251.07" y="440.00" width="1.6" height="1.6"/><rect x="251.95" y="438.24" width="1.6" height="1.6"/><rect x="252.82" y="440.00" width="1.6" height="1.6"/><rect x="253.70" y="438.24" width="1.6" height="1.6"/><rect x="254.57" y="431.55" width="1.6" height="1.6"/><rect x="255.45" y="440.00" width="1.6" height="1.6"/><rect x="256.32" y="436.66" width="1.6" height="1.6"/><rect x="257.20" y="440.00" width="1.6" height="1.6"/><rect x="258.07" y="436.66" width="1.6" height="1.6"/><rect x="258.95" y="433.49" width="1.6" height="1.6"/><rect x="259.82" y="436.66" width="1.6" height="1.6"/><rect x="260.70" y="440.00" width="1.6" height="1.6"/></g>
<rect x="155.7" y="298.6" width="118.69999999999999" height="89.79999999999995" fill="#fff" stroke="#3a3a3a" stroke-width="0.9"/>
<path d="M155.7,380.50 h-1.6 M155.7,373.08 h-1.0 M155.7,365.66 h-1.6 M155.7,358.24 h-1.0 M155.7,350.82 h-1.6 M155.7,343.40 h-1.0 M155.7,335.98 h-1.6 M155.7,328.56 h-1.0 M155.7,321.14 h-1.6 M155.7,313.72 h-1.0 M155.7,306.30 h-1.6 M156.80,388.4 v1.6 M171.50,388.4 v1.0 M186.20,388.4 v1.6 M200.90,388.4 v1.0 M215.60,388.4 v1.6 M230.30,388.4 v1.0 M245.00,388.4 v1.6 M259.70,388.4 v1.0 M274.40,388.4 v1.6" stroke="#3a3a3a" stroke-width="0.8"/>
<text x="153.2" y="383.4" font-size="8.0" text-anchor="end" fill="#000" >0.0</text>
<text x="153.2" y="368.56" font-size="8.0" text-anchor="end" fill="#000" >0.2</text>
<text x="153.2" y="353.71999999999997" font-size="8.0" text-anchor="end" fill="#000" >0.4</text>
<text x="153.2" y="338.88" font-size="8.0" text-anchor="end" fill="#000" >0.6</text>
<text x="153.2" y="324.03999999999996" font-size="8.0" text-anchor="end" fill="#000" >0.8</text>
<text x="153.2" y="309.2" font-size="8.0" text-anchor="end" fill="#000" >1.0</text>
<text x="156.8" y="397.9" font-size="8.0" text-anchor="middle" fill="#000" >0</text>
<text x="186.20000000000002" y="397.9" font-size="8.0" text-anchor="middle" fill="#000" >200</text>
<text x="215.60000000000002" y="397.9" font-size="8.0" text-anchor="middle" fill="#000" >400</text>
<text x="245.0" y="397.9" font-size="8.0" text-anchor="middle" fill="#000" >600</text>
<text x="274.4" y="397.9" font-size="8.0" text-anchor="middle" fill="#000" >800</text>
<text x="215.9" y="407.4" font-size="8.8" text-anchor="middle" fill="#000" >Epoch</text>
<text transform="translate(135.6,343.7) rotate(-90)" font-size="8.9" text-anchor="middle" fill="#000">Accuracy</text>
<polyline points="156.80,380.50 157.39,380.50 157.98,380.50 158.56,380.50 159.15,380.50 159.74,380.50 160.33,380.50 160.92,380.50 161.50,380.50 162.09,380.50 162.68,380.50 163.27,380.50 163.86,380.50 164.44,380.50 165.03,380.50 165.62,380.50 166.21,380.50 166.80,380.50 167.38,380.50 167.97,380.50 168.56,380.50 169.15,380.50 169.74,380.50 170.32,380.50 170.91,380.50 171.50,380.50 172.09,380.46 172.68,380.36 173.26,380.19 173.85,379.96 174.44,379.69 175.03,379.37 175.62,379.01 176.20,378.62 176.79,378.20 177.38,377.76 177.97,377.28 178.56,376.60 179.14,375.74 179.73,374.72 180.32,373.58 180.91,372.36 181.50,371.08 182.08,369.79 182.67,368.51 183.26,367.26 183.85,365.92 184.44,364.50 185.02,363.01 185.61,361.50 186.20,359.98 186.79,358.47 187.38,357.01 187.96,355.61 188.55,354.29 189.14,353.02 189.73,351.78 190.32,350.57 190.90,349.37 191.49,348.17 192.08,346.96 192.67,345.73 193.26,344.46 193.84,343.15 194.43,341.79 195.02,340.39 195.61,338.97 196.20,337.55 196.78,336.14 197.37,334.77 197.96,333.45 198.55,332.20 199.14,331.00 199.72,329.82 200.31,328.64 200.90,327.50 201.49,326.39 202.08,325.34 202.66,324.35 203.25,323.44 203.84,322.62 204.43,321.87 205.02,321.15 205.60,320.45 206.19,319.79 206.78,319.16 207.37,318.55 207.96,317.98 208.54,317.44 209.13,316.93 209.72,316.44 210.31,315.99 210.90,315.57 211.48,315.18 212.07,314.80 212.66,314.44 213.25,314.09 213.84,313.75 214.42,313.43 215.01,313.12 215.60,312.83 216.19,312.55 216.78,312.27 217.36,312.01 217.95,311.76 218.54,311.52 219.13,311.29 219.72,311.07 220.30,310.85 220.89,310.64 221.48,310.44 222.07,310.24 222.66,310.05 223.24,309.87 223.83,309.69 224.42,309.52 225.01,309.35 225.60,309.19 226.18,309.04 226.77,308.89 227.36,308.75 227.95,308.62 228.54,308.49 229.12,308.37 229.71,308.25 230.30,308.13 230.89,308.02 231.48,307.91 232.06,307.81 232.65,307.71 233.24,307.62 233.83,307.54 234.42,307.47 235.00,307.41 235.59,307.36 236.18,307.31 236.77,307.26 237.36,307.22 237.94,307.17 238.53,307.13 239.12,307.09 239.71,307.06 240.30,307.02 240.88,306.99 241.47,306.95 242.06,306.92 242.65,306.89 243.24,306.86 243.82,306.83 244.41,306.81 245.00,306.78 245.59,306.76 246.18,306.74 246.76,306.71 247.35,306.69 247.94,306.67 248.53,306.65 249.12,306.63 249.70,306.61 250.29,306.59 250.88,306.57 251.47,306.55 252.06,306.54 252.64,306.52 253.23,306.50 253.82,306.49 254.41,306.47 255.00,306.46 255.58,306.44 256.17,306.43 256.76,306.42 257.35,306.41 257.94,306.40 258.52,306.39 259.11,306.38 259.70,306.37 260.29,306.37 260.88,306.36 261.46,306.36 262.05,306.35 262.64,306.35 263.23,306.34 263.82,306.34 264.40,306.34 264.99,306.33 265.58,306.33 266.17,306.32 266.76,306.32 267.34,306.32 267.93,306.31 268.52,306.31 269.11,306.31 269.70,306.30" fill="none" stroke="#333" stroke-width="0.75"/>
<polyline points="156.80,380.50 157.39,380.50 157.98,380.50 158.56,380.50 159.15,380.50 159.74,380.50 160.33,380.50 160.92,380.50 161.50,380.50 162.09,380.50 162.68,380.50 163.27,380.50 163.86,380.50 164.44,380.50 165.03,380.50 165.62,380.50 166.21,380.50 166.80,380.50 167.38,380.50 167.97,380.50 168.56,380.50 169.15,380.50 169.74,380.50 170.32,380.50 170.91,380.50 171.50,380.50 172.09,380.46 172.68,380.36 173.26,380.18 173.85,379.96 174.44,379.68 175.03,379.36 175.62,379.00 176.20,378.60 176.79,378.19 177.38,377.75 177.97,377.28 178.56,376.63 179.14,375.81 179.73,374.85 180.32,373.79 180.91,372.66 181.50,371.49 182.08,370.32 182.67,369.18 183.26,368.08 183.85,366.95 184.44,365.77 185.02,364.56 185.61,363.33 186.20,362.10 186.79,360.88 187.38,359.68 187.96,358.52 188.55,357.40 189.14,356.31 189.73,355.24 190.32,354.19 190.90,353.14 191.49,352.09 192.08,351.03 192.67,349.96 193.26,348.87 193.84,347.75 194.43,346.60 195.02,345.43 195.61,344.25 196.20,343.07 196.78,341.89 197.37,340.73 197.96,339.59 198.55,338.48 199.14,337.39 199.72,336.29 200.31,335.20 200.90,334.11 201.49,333.06 202.08,332.03 202.66,331.06 203.25,330.14 203.84,329.30 204.43,328.51 205.02,327.74 205.60,326.99 206.19,326.27 206.78,325.57 207.37,324.90 207.96,324.26 208.54,323.65 209.13,323.06 209.72,322.51 210.31,321.99 210.90,321.51 211.48,321.05 212.07,320.60 212.66,320.17 213.25,319.75 213.84,319.34 214.42,318.95 215.01,318.58 215.60,318.22 216.19,317.87 216.78,317.55 217.36,317.24 217.95,316.95 218.54,316.67 219.13,316.42 219.72,316.19 220.30,315.96 220.89,315.75 221.48,315.55 222.07,315.36 222.66,315.17 223.24,314.99 223.83,314.82 224.42,314.66 225.01,314.51 225.60,314.36 226.18,314.21 226.77,314.07 227.36,313.94 227.95,313.81 228.54,313.69 229.12,313.57 229.71,313.46 230.30,313.35 230.89,313.24 231.48,313.14 232.06,313.05 232.65,312.95 233.24,312.86 233.83,312.77 234.42,312.69 235.00,312.61 235.59,312.53 236.18,312.45 236.77,312.37 237.36,312.29 237.94,312.21 238.53,312.14 239.12,312.06 239.71,311.99 240.30,311.92 240.88,311.85 241.47,311.78 242.06,311.71 242.65,311.65 243.24,311.58 243.82,311.52 244.41,311.46 245.00,311.40 245.59,311.34 246.18,311.28 246.76,311.23 247.35,311.17 247.94,311.12 248.53,311.07 249.12,311.02 249.70,310.98 250.29,310.93 250.88,310.89 251.47,310.84 252.06,310.80 252.64,310.76 253.23,310.72 253.82,310.68 254.41,310.64 255.00,310.60 255.58,310.56 256.17,310.53 256.76,310.49 257.35,310.45 257.94,310.42 258.52,310.38 259.11,310.34 259.70,310.31 260.29,310.27 260.88,310.23 261.46,310.20 262.05,310.17 262.64,310.13 263.23,310.10 263.82,310.06 264.40,310.03 264.99,310.00 265.58,309.97 266.17,309.93 266.76,309.90 267.34,309.87 267.93,309.84 268.52,309.80 269.11,309.77 269.70,309.74" fill="none" stroke="#D24B4B" stroke-width="0.75"/>
<text x="238.0" y="321.8" font-size="7.9" text-anchor="start" fill="#000" >770</text>
<text x="270.9" y="321.8" font-size="7.9" text-anchor="end" fill="#000" >0.95</text>
<line x1="204" y1="355.3" x2="214" y2="355.3" stroke="#333" stroke-width="0.8"/>
<text x="215" y="356.9" font-size="9" fill="#000">Training <tspan font-style="italic">acc</tspan></text>
<line x1="204" y1="371.3" x2="214" y2="371.3" stroke="#D24B4B" stroke-width="0.8"/>
<text x="215" y="372.8" font-size="9" fill="#000">Validation <tspan font-style="italic">acc</tspan></text>
<text x="309.3" y="289.75" font-size="16" text-anchor="start" fill="#000" >c</text>
<path d="M363.0,291.7 H587.7 M363.0,459.5 H587.7" stroke="#333" stroke-width="1.1"/>
<path d="M363.0,291.2 V460.0 M587.7,291.2 V460.0" stroke="#858585" stroke-width="1.6"/>
<path d="M362.3,459.44 h-1.5 M362.3,445.40 h-2.6 M362.3,431.36 h-1.5 M362.3,417.32 h-2.6 M362.3,403.28 h-1.5 M362.3,389.24 h-2.6 M362.3,375.20 h-1.5 M362.3,361.16 h-2.6 M362.3,347.12 h-1.5 M362.3,333.08 h-2.6 M362.3,319.04 h-1.5 M362.3,305.00 h-2.6 M381.30,459.5 v2.6 M400.11,459.5 v1.5 M418.92,459.5 v2.6 M437.73,459.5 v1.5 M456.54,459.5 v2.6 M475.35,459.5 v1.5 M494.16,459.5 v2.6 M512.97,459.5 v1.5 M531.78,459.5 v2.6 M550.59,459.5 v1.5 M569.40,459.5 v2.6" stroke="#3a3a3a" stroke-width="0.9"/>
<text x="357.6" y="449.2" font-size="10.8" text-anchor="end" fill="#000" >0.0</text>
<text x="381.3" y="472.7" font-size="10.8" text-anchor="middle" fill="#000" >0.0</text>
<text x="357.6" y="421.12" font-size="10.8" text-anchor="end" fill="#000" >0.2</text>
<text x="418.92" y="472.7" font-size="10.8" text-anchor="middle" fill="#000" >0.2</text>
<text x="357.6" y="393.03999999999996" font-size="10.8" text-anchor="end" fill="#000" >0.4</text>
<text x="456.54" y="472.7" font-size="10.8" text-anchor="middle" fill="#000" >0.4</text>
<text x="357.6" y="364.96" font-size="10.8" text-anchor="end" fill="#000" >0.6</text>
<text x="494.16" y="472.7" font-size="10.8" text-anchor="middle" fill="#000" >0.6</text>
<text x="357.6" y="336.88" font-size="10.8" text-anchor="end" fill="#000" >0.8</text>
<text x="531.78" y="472.7" font-size="10.8" text-anchor="middle" fill="#000" >0.8</text>
<text x="357.6" y="308.8" font-size="10.8" text-anchor="end" fill="#000" >1.0</text>
<text x="569.4" y="472.7" font-size="10.8" text-anchor="middle" fill="#000" >1.0</text>
<text x="476.5" y="490.7" font-size="12.4" text-anchor="middle" fill="#000">Threshold of similarity</text>
<text transform="translate(333,375) rotate(-90)" font-size="12.4" text-anchor="middle" fill="#000">Ratio</text>
<text x="352.4" y="350.8" font-size="10.8" text-anchor="end" fill="#3DAA6A" >0.7</text>
<line x1="356.8" y1="347.3" x2="362.3" y2="347.3" stroke="#3DAA6A" stroke-width="1.6"/>
<line x1="365" y1="354.3" x2="379" y2="354.3" stroke="#3DAA6A" stroke-width="0.8" stroke-dasharray="1,1"/>
<line x1="475" y1="356.5" x2="475" y2="460" stroke="#D6C6EE" stroke-width="1" stroke-dasharray="4,2"/>
<g fill="#6DC088" stroke="#2E9A55" stroke-width="0.55"><circle cx="381.30" cy="354.14" r="1.08"/><circle cx="383.18" cy="354.14" r="1.08"/><circle cx="385.06" cy="354.14" r="1.08"/><circle cx="386.94" cy="354.14" r="1.08"/><circle cx="388.82" cy="354.14" r="1.08"/><circle cx="390.70" cy="354.14" r="1.08"/><circle cx="392.59" cy="354.14" r="1.08"/><circle cx="394.47" cy="354.14" r="1.08"/><circle cx="396.35" cy="354.14" r="1.08"/><circle cx="398.23" cy="354.14" r="1.08"/><circle cx="400.11" cy="354.14" r="1.08"/><circle cx="401.99" cy="354.14" r="1.08"/><circle cx="403.87" cy="354.14" r="1.08"/><circle cx="405.75" cy="354.14" r="1.08"/><circle cx="407.63" cy="354.14" r="1.08"/><circle cx="409.51" cy="354.14" r="1.08"/><circle cx="411.40" cy="354.14" r="1.08"/><circle cx="413.28" cy="354.14" r="1.08"/><circle cx="415.16" cy="354.14" r="1.08"/><circle cx="417.04" cy="354.14" r="1.08"/><circle cx="418.92" cy="354.14" r="1.08"/><circle cx="420.80" cy="354.14" r="1.08"/><circle cx="422.68" cy="354.14" r="1.08"/><circle cx="424.56" cy="354.14" r="1.08"/><circle cx="426.44" cy="354.14" r="1.08"/><circle cx="428.32" cy="354.14" r="1.08"/><circle cx="430.21" cy="354.14" r="1.08"/><circle cx="432.09" cy="354.14" r="1.08"/><circle cx="433.97" cy="354.14" r="1.08"/><circle cx="435.85" cy="354.14" r="1.08"/><circle cx="437.73" cy="354.14" r="1.08"/><circle cx="439.61" cy="354.14" r="1.08"/><circle cx="441.49" cy="354.14" r="1.08"/><circle cx="443.37" cy="354.14" r="1.08"/><circle cx="445.25" cy="354.14" r="1.08"/><circle cx="447.13" cy="354.14" r="1.08"/><circle cx="449.02" cy="354.14" r="1.08"/><circle cx="450.90" cy="354.14" r="1.08"/><circle cx="452.78" cy="354.14" r="1.08"/><circle cx="454.66" cy="354.14" r="1.08"/><circle cx="456.54" cy="354.14" r="1.08"/><circle cx="458.42" cy="354.14" r="1.08"/><circle cx="460.30" cy="354.14" r="1.08"/><circle cx="462.18" cy="354.14" r="1.08"/><circle cx="464.06" cy="354.14" r="1.08"/><circle cx="465.94" cy="354.14" r="1.08"/><circle cx="467.83" cy="354.14" r="1.08"/><circle cx="469.71" cy="354.14" r="1.08"/><circle cx="471.59" cy="354.14" r="1.08"/><circle cx="473.47" cy="354.14" r="1.08"/><circle cx="475.35" cy="354.14" r="1.08"/><circle cx="477.23" cy="354.14" r="1.08"/><circle cx="479.11" cy="354.14" r="1.08"/><circle cx="480.99" cy="354.14" r="1.08"/><circle cx="482.87" cy="354.14" r="1.08"/><circle cx="484.75" cy="354.14" r="1.08"/><circle cx="486.64" cy="354.30" r="1.08"/><circle cx="488.52" cy="355.55" r="1.08"/><circle cx="490.40" cy="357.88" r="1.08"/><circle cx="492.28" cy="360.97" r="1.08"/><circle cx="494.16" cy="364.41" r="1.08"/><circle cx="496.04" cy="367.74" r="1.08"/><circle cx="497.92" cy="370.50" r="1.08"/><circle cx="499.80" cy="372.32" r="1.08"/><circle cx="501.68" cy="372.95" r="1.08"/><circle cx="503.56" cy="372.95" r="1.08"/><circle cx="505.45" cy="372.95" r="1.08"/><circle cx="507.33" cy="372.95" r="1.08"/><circle cx="509.21" cy="372.95" r="1.08"/><circle cx="511.09" cy="372.95" r="1.08"/><circle cx="512.97" cy="372.95" r="1.08"/><circle cx="514.85" cy="372.95" r="1.08"/><circle cx="516.73" cy="372.95" r="1.08"/><circle cx="518.61" cy="373.34" r="1.08"/><circle cx="520.49" cy="376.27" r="1.08"/><circle cx="522.38" cy="381.20" r="1.08"/><circle cx="524.26" cy="386.57" r="1.08"/><circle cx="526.14" cy="390.66" r="1.08"/><circle cx="528.02" cy="392.19" r="1.08"/><circle cx="529.90" cy="392.19" r="1.08"/><circle cx="531.78" cy="392.19" r="1.08"/><circle cx="533.66" cy="392.19" r="1.08"/><circle cx="535.54" cy="392.19" r="1.08"/><circle cx="537.42" cy="392.19" r="1.08"/><circle cx="539.30" cy="392.19" r="1.08"/><circle cx="541.18" cy="392.19" r="1.08"/><circle cx="543.07" cy="392.19" r="1.08"/><circle cx="544.95" cy="392.19" r="1.08"/><circle cx="546.83" cy="392.19" r="1.08"/><circle cx="548.71" cy="392.19" r="1.08"/><circle cx="550.59" cy="392.19" r="1.08"/><circle cx="552.47" cy="392.19" r="1.08"/><circle cx="554.35" cy="392.19" r="1.08"/><circle cx="556.23" cy="392.19" r="1.08"/><circle cx="558.11" cy="393.03" r="1.08"/><circle cx="560.00" cy="401.17" r="1.08"/><circle cx="561.88" cy="418.72" r="1.08"/><circle cx="563.76" cy="442.87" r="1.08"/><circle cx="565.64" cy="445.40" r="1.08"/><circle cx="567.52" cy="445.40" r="1.08"/><circle cx="569.40" cy="445.40" r="1.08"/></g>
<g fill="#6A9BE6" stroke="#2A62C0" stroke-width="0.55"><circle cx="381.30" cy="445.40" r="1.08"/><circle cx="383.18" cy="445.40" r="1.08"/><circle cx="385.06" cy="445.40" r="1.08"/><circle cx="386.94" cy="445.40" r="1.08"/><circle cx="388.82" cy="445.40" r="1.08"/><circle cx="390.70" cy="445.40" r="1.08"/><circle cx="392.59" cy="445.40" r="1.08"/><circle cx="394.47" cy="445.40" r="1.08"/><circle cx="396.35" cy="445.40" r="1.08"/><circle cx="398.23" cy="445.40" r="1.08"/><circle cx="400.11" cy="445.40" r="1.08"/><circle cx="401.99" cy="445.40" r="1.08"/><circle cx="403.87" cy="445.40" r="1.08"/><circle cx="405.75" cy="445.40" r="1.08"/><circle cx="407.63" cy="445.40" r="1.08"/><circle cx="409.51" cy="445.40" r="1.08"/><circle cx="411.40" cy="445.40" r="1.08"/><circle cx="413.28" cy="445.40" r="1.08"/><circle cx="415.16" cy="445.40" r="1.08"/><circle cx="417.04" cy="445.40" r="1.08"/><circle cx="418.92" cy="445.40" r="1.08"/><circle cx="420.80" cy="445.40" r="1.08"/><circle cx="422.68" cy="445.40" r="1.08"/><circle cx="424.56" cy="445.40" r="1.08"/><circle cx="426.44" cy="445.40" r="1.08"/><circle cx="428.32" cy="445.40" r="1.08"/><circle cx="430.21" cy="445.40" r="1.08"/><circle cx="432.09" cy="445.40" r="1.08"/><circle cx="433.97" cy="445.40" r="1.08"/><circle cx="435.85" cy="445.40" r="1.08"/><circle cx="437.73" cy="445.40" r="1.08"/><circle cx="439.61" cy="445.40" r="1.08"/><circle cx="441.49" cy="445.40" r="1.08"/><circle cx="443.37" cy="445.40" r="1.08"/><circle cx="445.25" cy="445.40" r="1.08"/><circle cx="447.13" cy="445.40" r="1.08"/><circle cx="449.02" cy="445.40" r="1.08"/><circle cx="450.90" cy="445.40" r="1.08"/><circle cx="452.78" cy="445.40" r="1.08"/><circle cx="454.66" cy="445.40" r="1.08"/><circle cx="456.54" cy="445.40" r="1.08"/><circle cx="458.42" cy="445.40" r="1.08"/><circle cx="460.30" cy="445.40" r="1.08"/><circle cx="462.18" cy="445.40" r="1.08"/><circle cx="464.06" cy="428.55" r="1.08"/><circle cx="465.94" cy="411.70" r="1.08"/><circle cx="467.83" cy="408.90" r="1.08"/><circle cx="469.71" cy="406.79" r="1.08"/><circle cx="471.59" cy="397.66" r="1.08"/><circle cx="473.47" cy="396.26" r="1.08"/><circle cx="475.35" cy="396.26" r="1.08"/><circle cx="477.23" cy="396.26" r="1.08"/><circle cx="479.11" cy="396.26" r="1.08"/><circle cx="480.99" cy="396.26" r="1.08"/><circle cx="482.87" cy="396.26" r="1.08"/><circle cx="484.75" cy="396.26" r="1.08"/><circle cx="486.64" cy="396.10" r="1.08"/><circle cx="488.52" cy="394.85" r="1.08"/><circle cx="490.40" cy="392.52" r="1.08"/><circle cx="492.28" cy="389.43" r="1.08"/><circle cx="494.16" cy="385.99" r="1.08"/><circle cx="496.04" cy="382.66" r="1.08"/><circle cx="497.92" cy="379.90" r="1.08"/><circle cx="499.80" cy="378.08" r="1.08"/><circle cx="501.68" cy="377.45" r="1.08"/><circle cx="503.56" cy="377.45" r="1.08"/><circle cx="505.45" cy="377.45" r="1.08"/><circle cx="507.33" cy="377.45" r="1.08"/><circle cx="509.21" cy="377.45" r="1.08"/><circle cx="511.09" cy="377.45" r="1.08"/><circle cx="512.97" cy="377.45" r="1.08"/><circle cx="514.85" cy="377.45" r="1.08"/><circle cx="516.73" cy="377.45" r="1.08"/><circle cx="518.61" cy="377.06" r="1.08"/><circle cx="520.49" cy="374.13" r="1.08"/><circle cx="522.38" cy="369.20" r="1.08"/><circle cx="524.26" cy="363.83" r="1.08"/><circle cx="526.14" cy="359.74" r="1.08"/><circle cx="528.02" cy="358.21" r="1.08"/><circle cx="529.90" cy="358.21" r="1.08"/><circle cx="531.78" cy="358.21" r="1.08"/><circle cx="533.66" cy="358.21" r="1.08"/><circle cx="535.54" cy="358.21" r="1.08"/><circle cx="537.42" cy="358.21" r="1.08"/><circle cx="539.30" cy="358.21" r="1.08"/><circle cx="541.18" cy="358.21" r="1.08"/><circle cx="543.07" cy="358.21" r="1.08"/><circle cx="544.95" cy="358.21" r="1.08"/><circle cx="546.83" cy="358.21" r="1.08"/><circle cx="548.71" cy="358.21" r="1.08"/><circle cx="550.59" cy="358.21" r="1.08"/><circle cx="552.47" cy="358.21" r="1.08"/><circle cx="554.35" cy="358.21" r="1.08"/><circle cx="556.23" cy="358.21" r="1.08"/><circle cx="558.11" cy="357.37" r="1.08"/><circle cx="560.00" cy="349.93" r="1.08"/><circle cx="561.88" cy="331.68" r="1.08"/><circle cx="563.76" cy="307.11" r="1.08"/><circle cx="565.64" cy="305.00" r="1.08"/><circle cx="567.52" cy="305.00" r="1.08"/><circle cx="569.40" cy="305.00" r="1.08"/></g>
<g fill="#F07A7A" stroke="#CC3A3A" stroke-width="0.55"><circle cx="381.30" cy="396.26" r="1.08"/><circle cx="383.18" cy="396.26" r="1.08"/><circle cx="385.06" cy="396.26" r="1.08"/><circle cx="386.94" cy="396.26" r="1.08"/><circle cx="388.82" cy="396.26" r="1.08"/><circle cx="390.70" cy="396.26" r="1.08"/><circle cx="392.59" cy="396.26" r="1.08"/><circle cx="394.47" cy="396.26" r="1.08"/><circle cx="396.35" cy="396.26" r="1.08"/><circle cx="398.23" cy="396.26" r="1.08"/><circle cx="400.11" cy="396.26" r="1.08"/><circle cx="401.99" cy="396.26" r="1.08"/><circle cx="403.87" cy="396.26" r="1.08"/><circle cx="405.75" cy="396.26" r="1.08"/><circle cx="407.63" cy="396.26" r="1.08"/><circle cx="409.51" cy="396.26" r="1.08"/><circle cx="411.40" cy="396.26" r="1.08"/><circle cx="413.28" cy="396.26" r="1.08"/><circle cx="415.16" cy="396.26" r="1.08"/><circle cx="417.04" cy="396.26" r="1.08"/><circle cx="418.92" cy="396.26" r="1.08"/><circle cx="420.80" cy="396.26" r="1.08"/><circle cx="422.68" cy="396.26" r="1.08"/><circle cx="424.56" cy="396.26" r="1.08"/><circle cx="426.44" cy="396.26" r="1.08"/><circle cx="428.32" cy="396.26" r="1.08"/><circle cx="430.21" cy="396.26" r="1.08"/><circle cx="432.09" cy="396.26" r="1.08"/><circle cx="433.97" cy="396.26" r="1.08"/><circle cx="435.85" cy="396.26" r="1.08"/><circle cx="437.73" cy="396.26" r="1.08"/><circle cx="439.61" cy="396.26" r="1.08"/><circle cx="441.49" cy="396.26" r="1.08"/><circle cx="443.37" cy="396.26" r="1.08"/><circle cx="445.25" cy="396.26" r="1.08"/><circle cx="447.13" cy="396.26" r="1.08"/><circle cx="449.02" cy="396.26" r="1.08"/><circle cx="450.90" cy="396.26" r="1.08"/><circle cx="452.78" cy="396.26" r="1.08"/><circle cx="454.66" cy="396.26" r="1.08"/><circle cx="456.54" cy="396.26" r="1.08"/><circle cx="458.42" cy="396.26" r="1.08"/><circle cx="460.30" cy="396.26" r="1.08"/><circle cx="462.18" cy="396.26" r="1.08"/><circle cx="464.06" cy="413.11" r="1.08"/><circle cx="465.94" cy="429.96" r="1.08"/><circle cx="467.83" cy="432.76" r="1.08"/><circle cx="469.71" cy="434.87" r="1.08"/><circle cx="471.59" cy="444.00" r="1.08"/><circle cx="473.47" cy="445.40" r="1.08"/><circle cx="475.35" cy="445.40" r="1.08"/><circle cx="477.23" cy="445.40" r="1.08"/><circle cx="479.11" cy="445.40" r="1.08"/><circle cx="480.99" cy="445.40" r="1.08"/><circle cx="482.87" cy="445.40" r="1.08"/><circle cx="484.75" cy="445.40" r="1.08"/><circle cx="486.64" cy="445.40" r="1.08"/><circle cx="488.52" cy="445.40" r="1.08"/><circle cx="490.40" cy="445.40" r="1.08"/><circle cx="492.28" cy="445.40" r="1.08"/><circle cx="494.16" cy="445.40" r="1.08"/><circle cx="496.04" cy="445.40" r="1.08"/><circle cx="497.92" cy="445.40" r="1.08"/><circle cx="499.80" cy="445.40" r="1.08"/><circle cx="501.68" cy="445.40" r="1.08"/><circle cx="503.56" cy="445.40" r="1.08"/><circle cx="505.45" cy="445.40" r="1.08"/><circle cx="507.33" cy="445.40" r="1.08"/><circle cx="509.21" cy="445.40" r="1.08"/><circle cx="511.09" cy="445.40" r="1.08"/><circle cx="512.97" cy="445.40" r="1.08"/><circle cx="514.85" cy="445.40" r="1.08"/><circle cx="516.73" cy="445.40" r="1.08"/><circle cx="518.61" cy="445.40" r="1.08"/><circle cx="520.49" cy="445.40" r="1.08"/><circle cx="522.38" cy="445.40" r="1.08"/><circle cx="524.26" cy="445.40" r="1.08"/><circle cx="526.14" cy="445.40" r="1.08"/><circle cx="528.02" cy="445.40" r="1.08"/><circle cx="529.90" cy="445.40" r="1.08"/><circle cx="531.78" cy="445.40" r="1.08"/><circle cx="533.66" cy="445.40" r="1.08"/><circle cx="535.54" cy="445.40" r="1.08"/><circle cx="537.42" cy="445.40" r="1.08"/><circle cx="539.30" cy="445.40" r="1.08"/><circle cx="541.18" cy="445.40" r="1.08"/><circle cx="543.07" cy="445.40" r="1.08"/><circle cx="544.95" cy="445.40" r="1.08"/><circle cx="546.83" cy="445.40" r="1.08"/><circle cx="548.71" cy="445.40" r="1.08"/><circle cx="550.59" cy="445.40" r="1.08"/><circle cx="552.47" cy="445.40" r="1.08"/><circle cx="554.35" cy="445.40" r="1.08"/><circle cx="556.23" cy="445.40" r="1.08"/><circle cx="558.11" cy="445.40" r="1.08"/><circle cx="560.00" cy="445.40" r="1.08"/><circle cx="561.88" cy="445.40" r="1.08"/><circle cx="563.76" cy="445.40" r="1.08"/><circle cx="565.64" cy="445.40" r="1.08"/><circle cx="567.52" cy="445.40" r="1.08"/><circle cx="569.40" cy="445.40" r="1.08"/></g>
<circle cx="383" cy="307" r="1.7" fill="#7CCB92" stroke="#2E9A55" stroke-width="0.7"/>
<text x="393.2" y="309.4" font-size="8.95" text-anchor="start" fill="#1a1a1a" >Correct validation</text>
<circle cx="383" cy="322" r="1.7" fill="#6FA0E8" stroke="#2F66C0" stroke-width="0.7"/>
<text x="393.2" y="324.4" font-size="8.95" text-anchor="start" fill="#1a1a1a" >Invalidation</text>
<circle cx="383" cy="337" r="1.7" fill="#F08080" stroke="#C83A3A" stroke-width="0.7"/>
<text x="393.2" y="339.4" font-size="8.95" text-anchor="start" fill="#1a1a1a" >Wrong validation</text>
</svg>
</body></html>
